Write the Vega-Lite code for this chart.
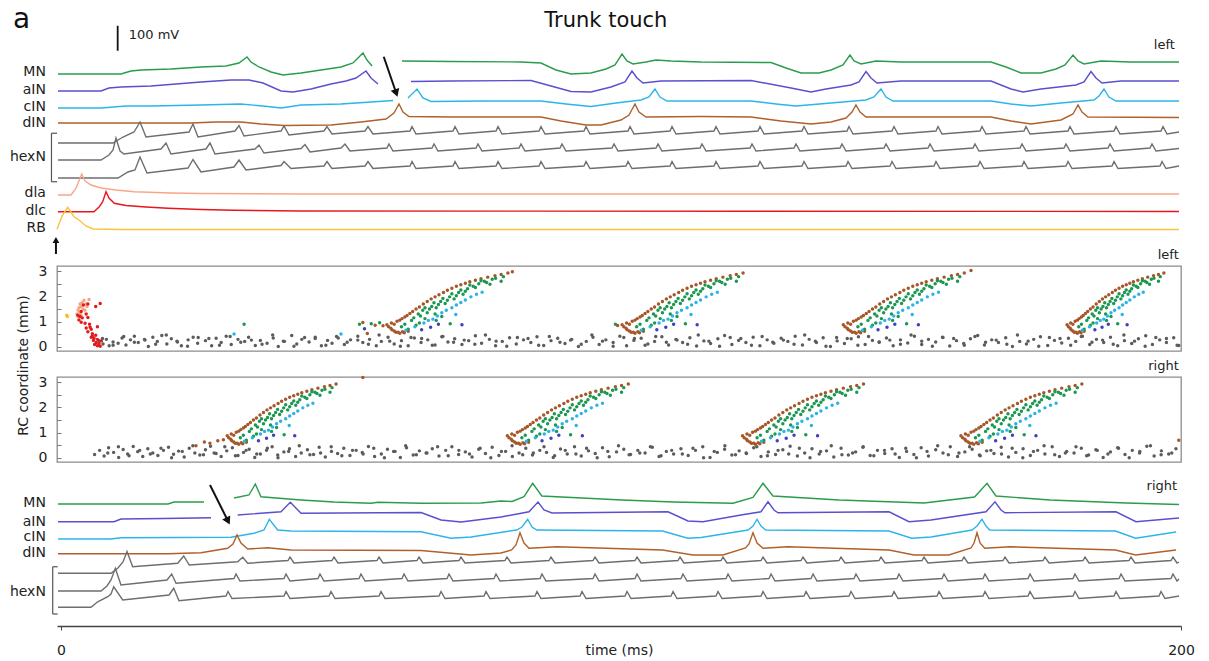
{
  "$schema": "https://vega.github.io/schema/vega-lite/v6.json",
  "background": "white",
  "autosize": {"type": "pad"},
  "padding": {"left": 9, "top": 0, "right": 0, "bottom": 0},
  "spacing": 26,
  "bounds": "flush",
  "resolve": {"scale": {"x": "independent", "y": "independent", "color": "independent"}},
  "config": {"font": "DejaVu Sans", "view": {"stroke": null}},
  "datasets": {
    "top": [
      {"k":"MN","t":-0.54,"v":664},{"k":"MN","t":10.71,"v":664},{"k":"MN","t":12.5,"v":676},{"k":"MN","t":14.29,"v":680},{"k":"MN","t":19.64,"v":684},{"k":"MN","t":25,"v":692},{"k":"MN","t":29.46,"v":696},{"k":"MN","t":31.79,"v":708},{"k":"MN","t":33.21,"v":732},{"k":"MN","t":33.93,"v":712},{"k":"MN","t":35.36,"v":692},{"k":"MN","t":37.5,"v":672},{"k":"MN","t":39.64,"v":660},{"k":"MN","t":42.86,"v":668},{"k":"MN","t":46.43,"v":680},{"k":"MN","t":50,"v":692},{"k":"MN","t":52.14,"v":708},{"k":"MN","t":53.93,"v":748},{"k":"MN","t":54.64,"v":720},{"k":"MN","t":55.54,"v":696},
      {"k":"MN_2","t":60.89,"v":716},{"k":"MN_2","t":69.64,"v":714},{"k":"MN_2","t":82.14,"v":712},{"k":"MN_2","t":85.71,"v":708},{"k":"MN_2","t":88.39,"v":680},{"k":"MN_2","t":91.07,"v":664},{"k":"MN_2","t":94.64,"v":668},{"k":"MN_2","t":97.32,"v":684},{"k":"MN_2","t":98.93,"v":700},{"k":"MN_2","t":100.18,"v":744},{"k":"MN_2","t":101.07,"v":716},{"k":"MN_2","t":102.14,"v":704},{"k":"MN_2","t":104.46,"v":712},{"k":"MN_2","t":106.25,"v":720},{"k":"MN_2","t":108.93,"v":716},{"k":"MN_2","t":114.29,"v":712},{"k":"MN_2","t":126.79,"v":710},{"k":"MN_2","t":129.46,"v":688},{"k":"MN_2","t":132.14,"v":668},{"k":"MN_2","t":135.36,"v":668},{"k":"MN_2","t":137.5,"v":680},{"k":"MN_2","t":139.64,"v":700},{"k":"MN_2","t":140.89,"v":740},{"k":"MN_2","t":141.61,"v":716},{"k":"MN_2","t":142.86,"v":704},{"k":"MN_2","t":145.54,"v":716},{"k":"MN_2","t":150,"v":712},{"k":"MN_2","t":166.07,"v":712},{"k":"MN_2","t":168.75,"v":692},{"k":"MN_2","t":171.43,"v":668},{"k":"MN_2","t":175,"v":668},{"k":"MN_2","t":177.68,"v":684},{"k":"MN_2","t":179.29,"v":700},{"k":"MN_2","t":180.71,"v":740},{"k":"MN_2","t":181.61,"v":716},{"k":"MN_2","t":182.68,"v":704},{"k":"MN_2","t":185.71,"v":716},{"k":"MN_2","t":191.07,"v":712},{"k":"MN_2","t":199.64,"v":712},
      {"k":"aIN","t":-0.54,"v":596},{"k":"aIN","t":7.14,"v":596},{"k":"aIN","t":8.57,"v":608},{"k":"aIN","t":10.71,"v":612},{"k":"aIN","t":16.07,"v":616},{"k":"aIN","t":20.54,"v":624},{"k":"aIN","t":25,"v":632},{"k":"aIN","t":30.36,"v":640},{"k":"aIN","t":33.57,"v":640},{"k":"aIN","t":36.07,"v":628},{"k":"aIN","t":39.29,"v":596},{"k":"aIN","t":41.43,"v":592},{"k":"aIN","t":44.64,"v":604},{"k":"aIN","t":48.21,"v":624},{"k":"aIN","t":50.89,"v":636},{"k":"aIN","t":52.68,"v":648},{"k":"aIN","t":54.46,"v":676},{"k":"aIN","t":55.36,"v":648},{"k":"aIN","t":56.61,"v":624},
      {"k":"aIN_2","t":62.5,"v":634},{"k":"aIN_2","t":69.64,"v":636},{"k":"aIN_2","t":83.93,"v":638},{"k":"aIN_2","t":87.5,"v":616},{"k":"aIN_2","t":91.07,"v":594},{"k":"aIN_2","t":94.64,"v":592},{"k":"aIN_2","t":98.21,"v":612},{"k":"aIN_2","t":100.71,"v":632},{"k":"aIN_2","t":101.96,"v":676},{"k":"aIN_2","t":102.86,"v":648},{"k":"aIN_2","t":103.93,"v":628},{"k":"aIN_2","t":107.14,"v":636},{"k":"aIN_2","t":123.21,"v":638},{"k":"aIN_2","t":130.36,"v":608},{"k":"aIN_2","t":133.93,"v":592},{"k":"aIN_2","t":136.61,"v":604},{"k":"aIN_2","t":141.07,"v":620},{"k":"aIN_2","t":142.5,"v":632},{"k":"aIN_2","t":143.75,"v":674},{"k":"aIN_2","t":144.64,"v":648},{"k":"aIN_2","t":145.71,"v":628},{"k":"aIN_2","t":150,"v":636},{"k":"aIN_2","t":166.07,"v":636},{"k":"aIN_2","t":169.64,"v":604},{"k":"aIN_2","t":171.79,"v":592},{"k":"aIN_2","t":175,"v":604},{"k":"aIN_2","t":181.25,"v":620},{"k":"aIN_2","t":182.68,"v":632},{"k":"aIN_2","t":183.93,"v":674},{"k":"aIN_2","t":184.82,"v":648},{"k":"aIN_2","t":185.89,"v":628},{"k":"aIN_2","t":189.29,"v":636},{"k":"aIN_2","t":199.64,"v":636},
      {"k":"cIN","t":-0.54,"v":528},{"k":"cIN","t":7.14,"v":528},{"k":"cIN","t":11.61,"v":536},{"k":"cIN","t":16.07,"v":536},{"k":"cIN","t":25,"v":540},{"k":"cIN","t":32.14,"v":544},{"k":"cIN","t":36.07,"v":536},{"k":"cIN","t":39.29,"v":528},{"k":"cIN","t":42.86,"v":540},{"k":"cIN","t":50,"v":544},{"k":"cIN","t":55.36,"v":552},{"k":"cIN","t":59.29,"v":558},
      {"k":"cIN_2","t":61.96,"v":568},{"k":"cIN_2","t":63.57,"v":604},{"k":"cIN_2","t":64.64,"v":568},{"k":"cIN_2","t":66.07,"v":554},{"k":"cIN_2","t":75,"v":556},{"k":"cIN_2","t":85.71,"v":556},{"k":"cIN_2","t":90.18,"v":544},{"k":"cIN_2","t":94.64,"v":534},{"k":"cIN_2","t":99.11,"v":548},{"k":"cIN_2","t":103.57,"v":560},{"k":"cIN_2","t":105,"v":572},{"k":"cIN_2","t":106.07,"v":604},{"k":"cIN_2","t":106.96,"v":572},{"k":"cIN_2","t":108.21,"v":556},{"k":"cIN_2","t":123.21,"v":556},{"k":"cIN_2","t":127.68,"v":544},{"k":"cIN_2","t":131.25,"v":536},{"k":"cIN_2","t":137.5,"v":548},{"k":"cIN_2","t":143.75,"v":560},{"k":"cIN_2","t":145.18,"v":572},{"k":"cIN_2","t":146.43,"v":604},{"k":"cIN_2","t":147.32,"v":572},{"k":"cIN_2","t":148.57,"v":556},{"k":"cIN_2","t":166.07,"v":556},{"k":"cIN_2","t":169.64,"v":544},{"k":"cIN_2","t":173.21,"v":536},{"k":"cIN_2","t":178.57,"v":548},{"k":"cIN_2","t":184.46,"v":560},{"k":"cIN_2","t":185.36,"v":576},{"k":"cIN_2","t":186.25,"v":604},{"k":"cIN_2","t":187.14,"v":572},{"k":"cIN_2","t":188.39,"v":556},{"k":"cIN_2","t":199.64,"v":556},
      {"k":"dIN","t":-0.54,"v":468},{"k":"dIN","t":23.21,"v":468},{"k":"dIN","t":27.68,"v":472},{"k":"dIN","t":32.14,"v":472},{"k":"dIN","t":35.71,"v":464},{"k":"dIN","t":39.82,"v":458},{"k":"dIN","t":48.21,"v":460},{"k":"dIN","t":53.57,"v":472},{"k":"dIN","t":58.04,"v":484},{"k":"dIN","t":59.46,"v":508},{"k":"dIN","t":60.36,"v":544},{"k":"dIN","t":61.07,"v":512},{"k":"dIN","t":62.14,"v":494},{"k":"dIN","t":69.64,"v":492},{"k":"dIN","t":85.71,"v":492},{"k":"dIN","t":89.29,"v":476},{"k":"dIN","t":93.75,"v":460},{"k":"dIN","t":96.43,"v":460},{"k":"dIN","t":100,"v":480},{"k":"dIN","t":101.43,"v":500},{"k":"dIN","t":102.5,"v":544},{"k":"dIN","t":103.21,"v":512},{"k":"dIN","t":104.46,"v":492},{"k":"dIN","t":114.29,"v":494},{"k":"dIN","t":123.21,"v":492},{"k":"dIN","t":128.57,"v":476},{"k":"dIN","t":133.93,"v":464},{"k":"dIN","t":137.5,"v":472},{"k":"dIN","t":140.18,"v":488},{"k":"dIN","t":141.25,"v":512},{"k":"dIN","t":141.96,"v":540},{"k":"dIN","t":142.68,"v":512},{"k":"dIN","t":143.75,"v":492},{"k":"dIN","t":166.07,"v":492},{"k":"dIN","t":169.64,"v":476},{"k":"dIN","t":173.21,"v":464},{"k":"dIN","t":178.57,"v":480},{"k":"dIN","t":180.71,"v":504},{"k":"dIN","t":181.61,"v":540},{"k":"dIN","t":182.32,"v":512},{"k":"dIN","t":183.39,"v":492},{"k":"dIN","t":199.64,"v":490},
      {"k":"h1","t":-0.54,"v":388},{"k":"h1","t":9.29,"v":388},{"k":"h1","t":11.07,"v":412},{"k":"h1","t":13.04,"v":432},{"k":"h1","t":14.11,"v":472},{"k":"h1","t":15.18,"v":412},{"k":"h1","t":22.86,"v":432},{"k":"h1","t":23.57,"v":464},{"k":"h1","t":24.46,"v":412},{"k":"h1","t":31.07,"v":436},{"k":"h1","t":31.79,"v":458},{"k":"h1","t":32.68,"v":416},{"k":"h1","t":39.29,"v":436},{"k":"h1","t":39.82,"v":456},{"k":"h1","t":40.71,"v":420},{"k":"h1","t":46.96,"v":436},{"k":"h1","t":47.5,"v":454},{"k":"h1","t":48.39,"v":424},{"k":"h1","t":54.29,"v":436},{"k":"h1","t":54.82,"v":454},{"k":"h1","t":55.71,"v":424},
      {"k":"h1","t":62.32,"v":436},{"k":"h1","t":62.68,"v":454},{"k":"h1","t":63.39,"v":424},{"k":"h1","t":70,"v":436},{"k":"h1","t":70.36,"v":454},{"k":"h1","t":71.07,"v":424},{"k":"h1","t":77.68,"v":436},{"k":"h1","t":78.04,"v":454},{"k":"h1","t":78.75,"v":424},{"k":"h1","t":85.36,"v":436},{"k":"h1","t":85.71,"v":454},{"k":"h1","t":86.43,"v":424},{"k":"h1","t":93.39,"v":436},{"k":"h1","t":93.75,"v":454},{"k":"h1","t":94.46,"v":424},{"k":"h1","t":101.25,"v":436},{"k":"h1","t":101.61,"v":454},{"k":"h1","t":102.32,"v":424},{"k":"h1","t":108.75,"v":436},{"k":"h1","t":109.11,"v":454},{"k":"h1","t":109.82,"v":424},{"k":"h1","t":116.61,"v":436},{"k":"h1","t":116.96,"v":454},{"k":"h1","t":117.68,"v":424},{"k":"h1","t":124.46,"v":436},{"k":"h1","t":124.82,"v":454},{"k":"h1","t":125.54,"v":424},{"k":"h1","t":132.32,"v":436},{"k":"h1","t":132.68,"v":454},{"k":"h1","t":133.39,"v":424},{"k":"h1","t":140.36,"v":436},{"k":"h1","t":140.71,"v":454},{"k":"h1","t":141.43,"v":424},{"k":"h1","t":148.39,"v":436},{"k":"h1","t":148.75,"v":454},{"k":"h1","t":149.46,"v":424},{"k":"h1","t":156.25,"v":436},{"k":"h1","t":156.61,"v":454},{"k":"h1","t":157.32,"v":424},{"k":"h1","t":164.11,"v":436},{"k":"h1","t":164.46,"v":454},{"k":"h1","t":165.18,"v":424},{"k":"h1","t":171.96,"v":436},{"k":"h1","t":172.32,"v":454},{"k":"h1","t":173.04,"v":424},{"k":"h1","t":179.82,"v":436},{"k":"h1","t":180.18,"v":454},{"k":"h1","t":180.89,"v":424},{"k":"h1","t":188.04,"v":436},{"k":"h1","t":188.39,"v":454},{"k":"h1","t":189.11,"v":424},{"k":"h1","t":196.43,"v":436},{"k":"h1","t":196.79,"v":454},{"k":"h1","t":197.5,"v":424},{"k":"h1","t":199.64,"v":432},
      {"k":"h2","t":-0.54,"v":320},{"k":"h2","t":7.14,"v":320},{"k":"h2","t":8.57,"v":340},{"k":"h2","t":9.29,"v":360},{"k":"h2","t":9.82,"v":408},{"k":"h2","t":10.54,"v":356},{"k":"h2","t":11.25,"v":344},{"k":"h2","t":17.86,"v":364},{"k":"h2","t":18.75,"v":388},{"k":"h2","t":19.64,"v":344},{"k":"h2","t":25.89,"v":364},{"k":"h2","t":26.61,"v":388},{"k":"h2","t":27.5,"v":344},{"k":"h2","t":34.64,"v":364},{"k":"h2","t":35.36,"v":380},{"k":"h2","t":36.25,"v":348},{"k":"h2","t":42.86,"v":366},{"k":"h2","t":43.57,"v":382},{"k":"h2","t":44.46,"v":352},{"k":"h2","t":50,"v":368},{"k":"h2","t":50.71,"v":384},{"k":"h2","t":51.61,"v":356},
      {"k":"h2","t":58.21,"v":368},{"k":"h2","t":58.57,"v":384},{"k":"h2","t":59.29,"v":356},{"k":"h2","t":66.25,"v":368},{"k":"h2","t":66.61,"v":384},{"k":"h2","t":67.32,"v":356},{"k":"h2","t":74.11,"v":368},{"k":"h2","t":74.46,"v":384},{"k":"h2","t":75.18,"v":356},{"k":"h2","t":81.79,"v":368},{"k":"h2","t":82.14,"v":384},{"k":"h2","t":82.86,"v":356},{"k":"h2","t":89.11,"v":368},{"k":"h2","t":89.46,"v":384},{"k":"h2","t":90.18,"v":356},{"k":"h2","t":98.39,"v":368},{"k":"h2","t":98.75,"v":384},{"k":"h2","t":99.46,"v":356},{"k":"h2","t":106.25,"v":368},{"k":"h2","t":106.61,"v":384},{"k":"h2","t":107.32,"v":356},{"k":"h2","t":114.11,"v":368},{"k":"h2","t":114.46,"v":384},{"k":"h2","t":115.18,"v":356},{"k":"h2","t":123.04,"v":368},{"k":"h2","t":123.39,"v":384},{"k":"h2","t":124.11,"v":356},{"k":"h2","t":130.89,"v":368},{"k":"h2","t":131.25,"v":384},{"k":"h2","t":131.96,"v":356},{"k":"h2","t":139.11,"v":368},{"k":"h2","t":139.46,"v":384},{"k":"h2","t":140.18,"v":356},{"k":"h2","t":146.96,"v":368},{"k":"h2","t":147.32,"v":384},{"k":"h2","t":148.04,"v":356},{"k":"h2","t":154.82,"v":368},{"k":"h2","t":155.18,"v":384},{"k":"h2","t":155.89,"v":356},{"k":"h2","t":162.86,"v":368},{"k":"h2","t":163.21,"v":384},{"k":"h2","t":163.93,"v":356},{"k":"h2","t":171.25,"v":368},{"k":"h2","t":171.61,"v":384},{"k":"h2","t":172.32,"v":356},{"k":"h2","t":179.11,"v":368},{"k":"h2","t":179.46,"v":384},{"k":"h2","t":180.18,"v":356},{"k":"h2","t":186.96,"v":368},{"k":"h2","t":187.32,"v":384},{"k":"h2","t":188.04,"v":356},{"k":"h2","t":194.46,"v":368},{"k":"h2","t":194.82,"v":384},{"k":"h2","t":195.54,"v":356},{"k":"h2","t":199.64,"v":366},
      {"k":"h3","t":-0.54,"v":248},{"k":"h3","t":10.18,"v":248},{"k":"h3","t":11.96,"v":272},{"k":"h3","t":13.21,"v":280},{"k":"h3","t":14.11,"v":332},{"k":"h3","t":15.36,"v":268},{"k":"h3","t":22.68,"v":288},{"k":"h3","t":23.57,"v":322},{"k":"h3","t":25,"v":272},{"k":"h3","t":30.89,"v":292},{"k":"h3","t":31.79,"v":320},{"k":"h3","t":33.04,"v":280},{"k":"h3","t":39.29,"v":298},{"k":"h3","t":39.82,"v":314},{"k":"h3","t":41.07,"v":286},{"k":"h3","t":46.96,"v":296},{"k":"h3","t":47.5,"v":314},{"k":"h3","t":48.39,"v":286},{"k":"h3","t":54.29,"v":296},{"k":"h3","t":54.82,"v":314},{"k":"h3","t":55.71,"v":286},
      {"k":"h3","t":62.32,"v":296},{"k":"h3","t":62.68,"v":314},{"k":"h3","t":63.39,"v":286},{"k":"h3","t":70,"v":296},{"k":"h3","t":70.36,"v":314},{"k":"h3","t":71.07,"v":286},{"k":"h3","t":77.68,"v":296},{"k":"h3","t":78.04,"v":314},{"k":"h3","t":78.75,"v":286},{"k":"h3","t":85.36,"v":296},{"k":"h3","t":85.71,"v":314},{"k":"h3","t":86.43,"v":286},{"k":"h3","t":93.39,"v":296},{"k":"h3","t":93.75,"v":314},{"k":"h3","t":94.46,"v":286},{"k":"h3","t":100.89,"v":296},{"k":"h3","t":101.25,"v":314},{"k":"h3","t":101.96,"v":286},{"k":"h3","t":108.75,"v":296},{"k":"h3","t":109.11,"v":314},{"k":"h3","t":109.82,"v":286},{"k":"h3","t":116.61,"v":296},{"k":"h3","t":116.96,"v":314},{"k":"h3","t":117.68,"v":286},{"k":"h3","t":124.46,"v":296},{"k":"h3","t":124.82,"v":314},{"k":"h3","t":125.54,"v":286},{"k":"h3","t":132.32,"v":296},{"k":"h3","t":132.68,"v":314},{"k":"h3","t":133.39,"v":286},{"k":"h3","t":140.18,"v":296},{"k":"h3","t":140.54,"v":314},{"k":"h3","t":141.25,"v":286},{"k":"h3","t":148.04,"v":296},{"k":"h3","t":148.39,"v":314},{"k":"h3","t":149.11,"v":286},{"k":"h3","t":155.89,"v":296},{"k":"h3","t":156.25,"v":314},{"k":"h3","t":156.96,"v":286},{"k":"h3","t":163.75,"v":296},{"k":"h3","t":164.11,"v":314},{"k":"h3","t":164.82,"v":286},{"k":"h3","t":171.61,"v":296},{"k":"h3","t":171.96,"v":314},{"k":"h3","t":172.68,"v":286},{"k":"h3","t":179.46,"v":296},{"k":"h3","t":179.82,"v":314},{"k":"h3","t":180.54,"v":286},{"k":"h3","t":187.68,"v":296},{"k":"h3","t":188.04,"v":314},{"k":"h3","t":188.75,"v":286},{"k":"h3","t":196.25,"v":296},{"k":"h3","t":196.61,"v":314},{"k":"h3","t":197.32,"v":286},{"k":"h3","t":199.64,"v":296},
      {"k":"dla","t":-0.54,"v":180},{"k":"dla","t":1.79,"v":180},{"k":"dla","t":2.68,"v":207},{"k":"dla","t":3.7,"v":264},{"k":"dla","t":4.29,"v":236},{"k":"dla","t":5.36,"v":220},{"k":"dla","t":7.14,"v":208},{"k":"dla","t":9.82,"v":200},{"k":"dla","t":13.04,"v":193},{"k":"dla","t":19.64,"v":188},{"k":"dla","t":25,"v":186},{"k":"dla","t":42.86,"v":184},{"k":"dla","t":199.64,"v":184},
      {"k":"dlc","t":-0.54,"v":113},{"k":"dlc","t":5.89,"v":113},{"k":"dlc","t":6.84,"v":133},{"k":"dlc","t":7.45,"v":153},{"k":"dlc","t":8.04,"v":193},{"k":"dlc","t":8.57,"v":168},{"k":"dlc","t":9.52,"v":147},{"k":"dlc","t":11.61,"v":138},{"k":"dlc","t":15.18,"v":132},{"k":"dlc","t":19.11,"v":127},{"k":"dlc","t":25,"v":122},{"k":"dlc","t":30.89,"v":119},{"k":"dlc","t":42.86,"v":116},{"k":"dlc","t":199.64,"v":114},
      {"k":"RB","t":-0.71,"v":43},{"k":"RB","t":0.18,"v":96},{"k":"RB","t":1.2,"v":131},{"k":"RB","t":2.32,"v":93},{"k":"RB","t":3.21,"v":80},{"k":"RB","t":4.46,"v":56},{"k":"RB","t":5.71,"v":44},{"k":"RB","t":10.71,"v":42},{"k":"RB","t":199.64,"v":42}
    ],
    "bottom": [
      {"k":"MN","t":-0.54,"v":488},{"k":"MN","t":19.11,"v":488},{"k":"MN","t":20.18,"v":496},{"k":"MN","t":25.54,"v":496},
      {"k":"MN_2","t":30.89,"v":512},{"k":"MN_2","t":33.57,"v":524},{"k":"MN_2","t":34.7,"v":568},{"k":"MN_2","t":35.71,"v":517},{"k":"MN_2","t":42.86,"v":504},{"k":"MN_2","t":48.75,"v":496},{"k":"MN_2","t":55.36,"v":491},{"k":"MN_2","t":56.61,"v":495},{"k":"MN_2","t":64.29,"v":491},{"k":"MN_2","t":75,"v":492},{"k":"MN_2","t":78.57,"v":500},{"k":"MN_2","t":80.54,"v":498},{"k":"MN_2","t":82.68,"v":517},{"k":"MN_2","t":84.23,"v":571},{"k":"MN_2","t":85.86,"v":520},{"k":"MN_2","t":100.18,"v":504},{"k":"MN_2","t":109.29,"v":496},{"k":"MN_2","t":120,"v":491},{"k":"MN_2","t":123.57,"v":514},{"k":"MN_2","t":125.36,"v":571},{"k":"MN_2","t":127.14,"v":520},{"k":"MN_2","t":138.93,"v":504},{"k":"MN_2","t":154.11,"v":492},{"k":"MN_2","t":163.14,"v":516},{"k":"MN_2","t":165.36,"v":571},{"k":"MN_2","t":166.96,"v":520},{"k":"MN_2","t":176.61,"v":504},{"k":"MN_2","t":185.71,"v":496},{"k":"MN_2","t":190.18,"v":492},{"k":"MN_2","t":199.64,"v":486},
      {"k":"aIN","t":-0.54,"v":417},{"k":"aIN","t":9.46,"v":417},{"k":"aIN","t":10.71,"v":428},{"k":"aIN","t":18.39,"v":430},{"k":"aIN","t":26.79,"v":433},
      {"k":"aIN_2","t":31.55,"v":444},{"k":"aIN_2","t":39.29,"v":457},{"k":"aIN_2","t":40.95,"v":495},{"k":"aIN_2","t":42.86,"v":451},{"k":"aIN_2","t":64.29,"v":454},{"k":"aIN_2","t":67.86,"v":424},{"k":"aIN_2","t":71.43,"v":416},{"k":"aIN_2","t":78.57,"v":436},{"k":"aIN_2","t":83.57,"v":457},{"k":"aIN_2","t":85.18,"v":496},{"k":"aIN_2","t":86.25,"v":464},{"k":"aIN_2","t":87.68,"v":452},{"k":"aIN_2","t":108.39,"v":457},{"k":"aIN_2","t":111.96,"v":420},{"k":"aIN_2","t":114.64,"v":417},{"k":"aIN_2","t":121.43,"v":444},{"k":"aIN_2","t":125,"v":457},{"k":"aIN_2","t":126.25,"v":497},{"k":"aIN_2","t":127.32,"v":464},{"k":"aIN_2","t":128.04,"v":453},{"k":"aIN_2","t":147.86,"v":457},{"k":"aIN_2","t":151.43,"v":417},{"k":"aIN_2","t":155.36,"v":424},{"k":"aIN_2","t":165.18,"v":457},{"k":"aIN_2","t":166.79,"v":497},{"k":"aIN_2","t":167.86,"v":464},{"k":"aIN_2","t":168.57,"v":453},{"k":"aIN_2","t":188.39,"v":457},{"k":"aIN_2","t":191.96,"v":417},{"k":"aIN_2","t":199.64,"v":432},
      {"k":"cIN","t":-0.54,"v":348},{"k":"cIN","t":8.93,"v":348},{"k":"cIN","t":10.71,"v":353},{"k":"cIN","t":30.36,"v":355},{"k":"cIN","t":34.46,"v":371},{"k":"cIN","t":36.25,"v":384},{"k":"cIN","t":37.2,"v":427},{"k":"cIN","t":38.7,"v":384},{"k":"cIN","t":41.07,"v":380},{"k":"cIN","t":64.29,"v":377},{"k":"cIN","t":69.64,"v":351},{"k":"cIN","t":73.21,"v":356},{"k":"cIN","t":81.36,"v":384},{"k":"cIN","t":82.32,"v":396},{"k":"cIN","t":83.34,"v":427},{"k":"cIN","t":84.11,"v":396},{"k":"cIN","t":84.96,"v":384},{"k":"cIN","t":107.43,"v":380},{"k":"cIN","t":111.91,"v":351},{"k":"cIN","t":114.29,"v":354},{"k":"cIN","t":122.68,"v":384},{"k":"cIN","t":123.57,"v":400},{"k":"cIN","t":124.29,"v":427},{"k":"cIN","t":125,"v":400},{"k":"cIN","t":125.84,"v":384},{"k":"cIN","t":147.86,"v":380},{"k":"cIN","t":151.91,"v":351},{"k":"cIN","t":155.36,"v":356},{"k":"cIN","t":162.68,"v":384},{"k":"cIN","t":163.57,"v":400},{"k":"cIN","t":164.46,"v":427},{"k":"cIN","t":165.18,"v":400},{"k":"cIN","t":165.84,"v":384},{"k":"cIN","t":188.3,"v":380},{"k":"cIN","t":191.89,"v":351},{"k":"cIN","t":199.11,"v":376},
      {"k":"dIN","t":-0.54,"v":289},{"k":"dIN","t":19.11,"v":289},{"k":"dIN","t":25,"v":293},{"k":"dIN","t":29.77,"v":311},{"k":"dIN","t":30.71,"v":328},{"k":"dIN","t":31.43,"v":364},{"k":"dIN","t":32.14,"v":332},{"k":"dIN","t":33.34,"v":308},{"k":"dIN","t":36.91,"v":313},{"k":"dIN","t":41.07,"v":304},{"k":"dIN","t":64.29,"v":302},{"k":"dIN","t":73.21,"v":284},{"k":"dIN","t":78.57,"v":292},{"k":"dIN","t":80.46,"v":304},{"k":"dIN","t":81.25,"v":324},{"k":"dIN","t":81.96,"v":373},{"k":"dIN","t":82.68,"v":332},{"k":"dIN","t":83.57,"v":311},{"k":"dIN","t":88.57,"v":317},{"k":"dIN","t":107.43,"v":304},{"k":"dIN","t":112.82,"v":284},{"k":"dIN","t":118.21,"v":284},{"k":"dIN","t":122.25,"v":312},{"k":"dIN","t":122.86,"v":328},{"k":"dIN","t":123.57,"v":373},{"k":"dIN","t":124.29,"v":332},{"k":"dIN","t":125.36,"v":311},{"k":"dIN","t":129.82,"v":317},{"k":"dIN","t":147.86,"v":304},{"k":"dIN","t":152.32,"v":284},{"k":"dIN","t":158.57,"v":284},{"k":"dIN","t":162.5,"v":312},{"k":"dIN","t":163.04,"v":332},{"k":"dIN","t":163.57,"v":373},{"k":"dIN","t":164.11,"v":332},{"k":"dIN","t":164.95,"v":311},{"k":"dIN","t":169.46,"v":317},{"k":"dIN","t":188.3,"v":304},{"k":"dIN","t":191.89,"v":284},{"k":"dIN","t":199.11,"v":304},
      {"k":"h1","t":-0.54,"v":211},{"k":"h1","t":8.93,"v":211},{"k":"h1","t":10.13,"v":231},{"k":"h1","t":11.07,"v":256},{"k":"h1","t":11.79,"v":298},{"k":"h1","t":12.8,"v":237},{"k":"h1","t":20.84,"v":251},{"k":"h1","t":21.91,"v":280},{"k":"h1","t":22.91,"v":244},{"k":"h1","t":31.55,"v":257},{"k":"h1","t":32.45,"v":275},{"k":"h1","t":33.34,"v":251},
      {"k":"h1","t":40.54,"v":262},{"k":"h1","t":40.89,"v":276},{"k":"h1","t":41.61,"v":252},{"k":"h1","t":48.39,"v":262},{"k":"h1","t":48.75,"v":276},{"k":"h1","t":49.46,"v":252},{"k":"h1","t":56.43,"v":262},{"k":"h1","t":56.79,"v":276},{"k":"h1","t":57.5,"v":252},{"k":"h1","t":63.57,"v":262},{"k":"h1","t":63.93,"v":276},{"k":"h1","t":64.64,"v":252},{"k":"h1","t":71.07,"v":262},{"k":"h1","t":71.43,"v":276},{"k":"h1","t":72.14,"v":252},{"k":"h1","t":79.29,"v":262},{"k":"h1","t":79.64,"v":276},{"k":"h1","t":80.36,"v":252},{"k":"h1","t":87.14,"v":262},{"k":"h1","t":87.5,"v":276},{"k":"h1","t":88.21,"v":252},{"k":"h1","t":95,"v":262},{"k":"h1","t":95.36,"v":276},{"k":"h1","t":96.07,"v":252},{"k":"h1","t":102.5,"v":262},{"k":"h1","t":102.86,"v":276},{"k":"h1","t":103.57,"v":252},{"k":"h1","t":110.18,"v":262},{"k":"h1","t":110.54,"v":276},{"k":"h1","t":111.25,"v":252},{"k":"h1","t":117.86,"v":262},{"k":"h1","t":118.21,"v":276},{"k":"h1","t":118.93,"v":252},{"k":"h1","t":125,"v":262},{"k":"h1","t":125.36,"v":276},{"k":"h1","t":126.07,"v":252},{"k":"h1","t":132.14,"v":262},{"k":"h1","t":132.5,"v":276},{"k":"h1","t":133.21,"v":252},{"k":"h1","t":138.93,"v":262},{"k":"h1","t":139.29,"v":276},{"k":"h1","t":140,"v":252},{"k":"h1","t":146.07,"v":262},{"k":"h1","t":146.43,"v":276},{"k":"h1","t":147.14,"v":252},{"k":"h1","t":153.75,"v":262},{"k":"h1","t":154.11,"v":276},{"k":"h1","t":154.82,"v":252},{"k":"h1","t":160.89,"v":262},{"k":"h1","t":161.25,"v":276},{"k":"h1","t":161.96,"v":252},{"k":"h1","t":168.21,"v":262},{"k":"h1","t":168.57,"v":276},{"k":"h1","t":169.29,"v":252},{"k":"h1","t":175.36,"v":262},{"k":"h1","t":175.71,"v":276},{"k":"h1","t":176.43,"v":252},{"k":"h1","t":182.5,"v":262},{"k":"h1","t":182.86,"v":276},{"k":"h1","t":183.57,"v":252},{"k":"h1","t":190.71,"v":262},{"k":"h1","t":191.07,"v":276},{"k":"h1","t":191.79,"v":252},{"k":"h1","t":198.21,"v":262},{"k":"h1","t":198.57,"v":276},{"k":"h1","t":199.29,"v":252},{"k":"h1","t":199.64,"v":256},
      {"k":"h2","t":-0.54,"v":140},{"k":"h2","t":7.14,"v":140},{"k":"h2","t":8.21,"v":160},{"k":"h2","t":8.93,"v":184},{"k":"h2","t":9.7,"v":231},{"k":"h2","t":10.71,"v":164},{"k":"h2","t":18.93,"v":184},{"k":"h2","t":19.77,"v":208},{"k":"h2","t":20.54,"v":171},
      {"k":"h2","t":30.89,"v":190},{"k":"h2","t":31.25,"v":208},{"k":"h2","t":31.96,"v":180},{"k":"h2","t":39.82,"v":190},{"k":"h2","t":40.18,"v":208},{"k":"h2","t":40.89,"v":180},{"k":"h2","t":45.89,"v":190},{"k":"h2","t":46.25,"v":208},{"k":"h2","t":46.96,"v":180},{"k":"h2","t":53.21,"v":190},{"k":"h2","t":53.57,"v":208},{"k":"h2","t":54.29,"v":180},{"k":"h2","t":60.89,"v":190},{"k":"h2","t":61.25,"v":208},{"k":"h2","t":61.96,"v":180},{"k":"h2","t":68.93,"v":190},{"k":"h2","t":69.29,"v":208},{"k":"h2","t":70,"v":180},{"k":"h2","t":77.32,"v":190},{"k":"h2","t":77.68,"v":208},{"k":"h2","t":78.39,"v":180},{"k":"h2","t":85.54,"v":190},{"k":"h2","t":85.89,"v":208},{"k":"h2","t":86.61,"v":180},{"k":"h2","t":95,"v":190},{"k":"h2","t":95.36,"v":208},{"k":"h2","t":96.07,"v":180},{"k":"h2","t":102.5,"v":190},{"k":"h2","t":102.86,"v":208},{"k":"h2","t":103.57,"v":180},{"k":"h2","t":110.71,"v":190},{"k":"h2","t":111.07,"v":208},{"k":"h2","t":111.79,"v":180},{"k":"h2","t":118.75,"v":190},{"k":"h2","t":119.11,"v":208},{"k":"h2","t":119.82,"v":180},{"k":"h2","t":126.43,"v":190},{"k":"h2","t":126.79,"v":208},{"k":"h2","t":127.5,"v":180},{"k":"h2","t":133.93,"v":190},{"k":"h2","t":134.29,"v":208},{"k":"h2","t":135,"v":180},{"k":"h2","t":141.61,"v":190},{"k":"h2","t":141.96,"v":208},{"k":"h2","t":142.68,"v":180},{"k":"h2","t":149.29,"v":190},{"k":"h2","t":149.64,"v":208},{"k":"h2","t":150.36,"v":180},{"k":"h2","t":157.32,"v":190},{"k":"h2","t":157.68,"v":208},{"k":"h2","t":158.39,"v":180},{"k":"h2","t":164.64,"v":190},{"k":"h2","t":165,"v":208},{"k":"h2","t":165.71,"v":180},{"k":"h2","t":172.68,"v":190},{"k":"h2","t":173.04,"v":208},{"k":"h2","t":173.75,"v":180},{"k":"h2","t":180.71,"v":190},{"k":"h2","t":181.07,"v":208},{"k":"h2","t":181.79,"v":180},{"k":"h2","t":188.93,"v":190},{"k":"h2","t":189.29,"v":208},{"k":"h2","t":190,"v":180},{"k":"h2","t":198.21,"v":190},{"k":"h2","t":198.57,"v":208},{"k":"h2","t":199.29,"v":180},{"k":"h2","t":199.64,"v":188},
      {"k":"h3","t":-0.54,"v":75},{"k":"h3","t":5.36,"v":75},{"k":"h3","t":6.55,"v":97},{"k":"h3","t":8.34,"v":117},{"k":"h3","t":8.93,"v":128},{"k":"h3","t":9.41,"v":157},{"k":"h3","t":11.02,"v":104},{"k":"h3","t":19.29,"v":124},{"k":"h3","t":20.13,"v":151},{"k":"h3","t":21.07,"v":101},
      {"k":"h3","t":29.46,"v":120},{"k":"h3","t":29.82,"v":138},{"k":"h3","t":30.54,"v":110},{"k":"h3","t":39.82,"v":120},{"k":"h3","t":40.18,"v":138},{"k":"h3","t":40.89,"v":110},{"k":"h3","t":47.86,"v":120},{"k":"h3","t":48.21,"v":138},{"k":"h3","t":48.93,"v":110},{"k":"h3","t":56.79,"v":120},{"k":"h3","t":57.14,"v":138},{"k":"h3","t":57.86,"v":110},{"k":"h3","t":67.5,"v":120},{"k":"h3","t":67.86,"v":138},{"k":"h3","t":68.57,"v":110},{"k":"h3","t":75.54,"v":120},{"k":"h3","t":75.89,"v":138},{"k":"h3","t":76.61,"v":110},{"k":"h3","t":84.64,"v":120},{"k":"h3","t":85,"v":138},{"k":"h3","t":85.71,"v":110},{"k":"h3","t":92.68,"v":120},{"k":"h3","t":93.04,"v":138},{"k":"h3","t":93.75,"v":110},{"k":"h3","t":100.71,"v":120},{"k":"h3","t":101.07,"v":138},{"k":"h3","t":101.79,"v":110},{"k":"h3","t":108.93,"v":120},{"k":"h3","t":109.29,"v":138},{"k":"h3","t":110,"v":110},{"k":"h3","t":116.96,"v":120},{"k":"h3","t":117.32,"v":138},{"k":"h3","t":118.04,"v":110},{"k":"h3","t":125,"v":120},{"k":"h3","t":125.36,"v":138},{"k":"h3","t":126.07,"v":110},{"k":"h3","t":132.68,"v":120},{"k":"h3","t":133.04,"v":138},{"k":"h3","t":133.75,"v":110},{"k":"h3","t":140.71,"v":120},{"k":"h3","t":141.07,"v":138},{"k":"h3","t":141.79,"v":110},{"k":"h3","t":148.39,"v":120},{"k":"h3","t":148.75,"v":138},{"k":"h3","t":149.46,"v":110},{"k":"h3","t":156.43,"v":120},{"k":"h3","t":156.79,"v":138},{"k":"h3","t":157.5,"v":110},{"k":"h3","t":164.64,"v":120},{"k":"h3","t":165,"v":138},{"k":"h3","t":165.71,"v":110},{"k":"h3","t":172.68,"v":120},{"k":"h3","t":173.04,"v":138},{"k":"h3","t":173.75,"v":110},{"k":"h3","t":180.71,"v":120},{"k":"h3","t":181.07,"v":138},{"k":"h3","t":181.79,"v":110},{"k":"h3","t":188.04,"v":120},{"k":"h3","t":188.39,"v":138},{"k":"h3","t":189.11,"v":110},{"k":"h3","t":196.07,"v":120},{"k":"h3","t":196.43,"v":138},{"k":"h3","t":197.14,"v":110},{"k":"h3","t":199.64,"v":120}
    ],
    "rasterL": [
      {"t":6.8,"y":0.25,"c":"hexN"},{"t":7.5,"y":0.12,"c":"hexN"},{"t":8.1,"y":0.3,"c":"hexN"},{"t":8.6,"y":0.05,"c":"hexN"},{"t":9.3,"y":0.2,"c":"hexN"},{"t":10.2,"y":0.15,"c":"hexN"},{"t":10.9,"y":0.35,"c":"hexN"},{"t":11.6,"y":0.08,"c":"hexN"},{"t":12.4,"y":0.28,"c":"hexN"},{"t":13.1,"y":0.42,"c":"hexN"},{"t":13.8,"y":0.18,"c":"hexN"},{"t":14.9,"y":0.3,"c":"hexN"},{"t":15.6,"y":0.02,"c":"hexN"},{"t":16.4,"y":0.38,"c":"hexN"},{"t":17.2,"y":0.22,"c":"hexN"},{"t":18,"y":0.45,"c":"hexN"},{"t":18.9,"y":0.12,"c":"hexN"},{"t":19.7,"y":0.32,"c":"hexN"},{"t":20.8,"y":0.2,"c":"hexN"},{"t":21.5,"y":0.05,"c":"hexN"},{"t":22.7,"y":0.28,"c":"hexN"},{"t":23.6,"y":0.38,"c":"hexN"},{"t":24.4,"y":0.15,"c":"hexN"},{"t":25.8,"y":0.25,"c":"hexN"},{"t":26.9,"y":0.05,"c":"hexN"},{"t":27.7,"y":0.34,"c":"hexN"},{"t":28.6,"y":0.18,"c":"hexN"},{"t":29.5,"y":0.42,"c":"hexN"},{"t":30.4,"y":0.1,"c":"hexN"},{"t":31.6,"y":0.3,"c":"hexN"},{"t":32.8,"y":0.22,"c":"hexN"},{"t":33.5,"y":0.38,"c":"hexN"},{"t":34.7,"y":0.06,"c":"hexN"},{"t":35.6,"y":0.26,"c":"hexN"},{"t":36.8,"y":0.15,"c":"hexN"},{"t":37.9,"y":0.35,"c":"hexN"},{"t":38.8,"y":0.02,"c":"hexN"},{"t":39.9,"y":0.22,"c":"hexN"},{"t":41.2,"y":0.45,"c":"hexN"},{"t":42.1,"y":0.12,"c":"hexN"},{"t":43,"y":0.3,"c":"hexN"},{"t":44.3,"y":0.2,"c":"hexN"},{"t":45.4,"y":0.38,"c":"hexN"},{"t":46.5,"y":0.05,"c":"hexN"},{"t":47.6,"y":0.26,"c":"hexN"},{"t":48.4,"y":0.15,"c":"hexN"},{"t":49.5,"y":0.35,"c":"hexN"},{"t":50.6,"y":0.1,"c":"hexN"},{"t":51.7,"y":0.28,"c":"hexN"},{"t":53,"y":0.42,"c":"hexN"},{"t":53.9,"y":0.18,"c":"hexN"},{"t":55.1,"y":0.3,"c":"hexN"},{"t":56.3,"y":0.05,"c":"hexN"},{"t":57.2,"y":0.22,"c":"hexN"},{"t":58.4,"y":0.38,"c":"hexN"},{"t":59.5,"y":0.12,"c":"hexN"},{"t":60.8,"y":0.25,"c":"hexN"},{"t":62,"y":0.05,"c":"hexN"},{"t":63.1,"y":0.35,"c":"hexN"},{"t":64.3,"y":0.18,"c":"hexN"},{"t":65.5,"y":0.28,"c":"hexN"},{"t":66.8,"y":0.08,"c":"hexN"},{"t":68,"y":0.4,"c":"hexN"},{"t":69.1,"y":0.2,"c":"hexN"},{"t":70.3,"y":0.32,"c":"hexN"},{"t":71.6,"y":0.1,"c":"hexN"},{"t":72.8,"y":0.25,"c":"hexN"},{"t":74,"y":0.44,"c":"hexN"},{"t":75.1,"y":0.15,"c":"hexN"},{"t":76.5,"y":0.3,"c":"hexN"},{"t":77.6,"y":0.05,"c":"hexN"},{"t":78.8,"y":0.22,"c":"hexN"},{"t":80.1,"y":0.36,"c":"hexN"},{"t":81.3,"y":0.12,"c":"hexN"},{"t":82.6,"y":0.28,"c":"hexN"},{"t":83.9,"y":0.18,"c":"hexN"},{"t":85,"y":0.4,"c":"hexN"},{"t":86.2,"y":0.06,"c":"hexN"},{"t":87.5,"y":0.25,"c":"hexN"},{"t":88.7,"y":0.34,"c":"hexN"},{"t":90,"y":0.14,"c":"hexN"},{"t":91.2,"y":0.3,"c":"hexN"},{"t":92.4,"y":0.02,"c":"hexN"},{"t":93.8,"y":0.22,"c":"hexN"},{"t":95,"y":0.38,"c":"hexN"},{"t":96.1,"y":0.1,"c":"hexN"},{"t":97.3,"y":0.28,"c":"hexN"},{"t":98.6,"y":0.18,"c":"hexN"},{"t":99.8,"y":0.42,"c":"hexN"},{"t":101,"y":0.05,"c":"hexN"},{"t":102.3,"y":0.26,"c":"hexN"},{"t":103.6,"y":0.34,"c":"hexN"},{"t":104.8,"y":0.12,"c":"hexN"},{"t":106,"y":0.22,"c":"hexN"},{"t":107.3,"y":0.4,"c":"hexN"},{"t":108.5,"y":0.08,"c":"hexN"},{"t":109.8,"y":0.3,"c":"hexN"},{"t":111,"y":0.18,"c":"hexN"},{"t":112.3,"y":0.36,"c":"hexN"},{"t":113.5,"y":0.04,"c":"hexN"},{"t":114.8,"y":0.24,"c":"hexN"},{"t":116,"y":0.14,"c":"hexN"},{"t":117.3,"y":0.32,"c":"hexN"},{"t":118.5,"y":0.45,"c":"hexN"},{"t":119.8,"y":0.1,"c":"hexN"},{"t":121,"y":0.26,"c":"hexN"},{"t":122.3,"y":0.18,"c":"hexN"},{"t":123.6,"y":0.38,"c":"hexN"},{"t":124.8,"y":0.05,"c":"hexN"},{"t":126.1,"y":0.28,"c":"hexN"},{"t":127.3,"y":0.15,"c":"hexN"},{"t":128.6,"y":0.34,"c":"hexN"},{"t":129.8,"y":0.22,"c":"hexN"},{"t":131.1,"y":0.42,"c":"hexN"},{"t":132.4,"y":0.08,"c":"hexN"},{"t":133.6,"y":0.3,"c":"hexN"},{"t":134.9,"y":0.18,"c":"hexN"},{"t":136.1,"y":0.36,"c":"hexN"},{"t":137.4,"y":0.02,"c":"hexN"},{"t":138.6,"y":0.24,"c":"hexN"},{"t":139.9,"y":0.14,"c":"hexN"},{"t":141.1,"y":0.32,"c":"hexN"},{"t":142.4,"y":0.4,"c":"hexN"},{"t":143.6,"y":0.1,"c":"hexN"},{"t":144.9,"y":0.26,"c":"hexN"},{"t":146.1,"y":0.2,"c":"hexN"},{"t":147.4,"y":0.35,"c":"hexN"},{"t":148.6,"y":0.05,"c":"hexN"},{"t":149.9,"y":0.28,"c":"hexN"},{"t":151.2,"y":0.16,"c":"hexN"},{"t":152.4,"y":0.42,"c":"hexN"},{"t":153.7,"y":0.1,"c":"hexN"},{"t":154.9,"y":0.3,"c":"hexN"},{"t":156.2,"y":0.2,"c":"hexN"},{"t":157.4,"y":0.38,"c":"hexN"},{"t":158.7,"y":0.04,"c":"hexN"},{"t":159.9,"y":0.25,"c":"hexN"},{"t":161.2,"y":0.14,"c":"hexN"},{"t":162.4,"y":0.32,"c":"hexN"},{"t":163.7,"y":0.45,"c":"hexN"},{"t":164.9,"y":0.08,"c":"hexN"},{"t":166.2,"y":0.28,"c":"hexN"},{"t":167.4,"y":0.18,"c":"hexN"},{"t":168.7,"y":0.36,"c":"hexN"},{"t":169.9,"y":0.02,"c":"hexN"},{"t":171.2,"y":0.22,"c":"hexN"},{"t":172.4,"y":0.12,"c":"hexN"},{"t":173.7,"y":0.3,"c":"hexN"},{"t":174.9,"y":0.4,"c":"hexN"},{"t":176.2,"y":0.06,"c":"hexN"},{"t":177.4,"y":0.26,"c":"hexN"},{"t":178.7,"y":0.16,"c":"hexN"},{"t":179.9,"y":0.34,"c":"hexN"},{"t":181.2,"y":0.22,"c":"hexN"},{"t":182.4,"y":0.42,"c":"hexN"},{"t":183.7,"y":0.1,"c":"hexN"},{"t":184.9,"y":0.3,"c":"hexN"},{"t":186.2,"y":0.18,"c":"hexN"},{"t":187.4,"y":0.38,"c":"hexN"},{"t":188.7,"y":0.05,"c":"hexN"},{"t":189.9,"y":0.25,"c":"hexN"},{"t":191.2,"y":0.14,"c":"hexN"},{"t":192.4,"y":0.32,"c":"hexN"},{"t":193.7,"y":0.44,"c":"hexN"},{"t":194.9,"y":0.1,"c":"hexN"},{"t":196.2,"y":0.28,"c":"hexN"},{"t":197.4,"y":0.18,"c":"hexN"},{"t":198.7,"y":0.36,"c":"hexN"},{"t":199.6,"y":0.06,"c":"hexN"},
      {"t":7.4,"y":0.33,"c":"hexN"},{"t":9.3,"y":0.07,"c":"hexN"},{"t":11.2,"y":0.41,"c":"hexN"},{"t":13.1,"y":0.19,"c":"hexN"},{"t":15,"y":0.27,"c":"hexN"},{"t":16.9,"y":0.11,"c":"hexN"},{"t":18.8,"y":0.47,"c":"hexN"},{"t":20.7,"y":0.23,"c":"hexN"},{"t":22.6,"y":0.03,"c":"hexN"},{"t":24.5,"y":0.37,"c":"hexN"},{"t":26.4,"y":0.33,"c":"hexN"},{"t":28.3,"y":0.07,"c":"hexN"},{"t":30.2,"y":0.41,"c":"hexN"},{"t":32.1,"y":0.19,"c":"hexN"},{"t":34,"y":0.27,"c":"hexN"},{"t":35.9,"y":0.11,"c":"hexN"},{"t":37.8,"y":0.47,"c":"hexN"},{"t":39.7,"y":0.23,"c":"hexN"},{"t":41.6,"y":0.03,"c":"hexN"},{"t":43.5,"y":0.37,"c":"hexN"},{"t":45.4,"y":0.33,"c":"hexN"},{"t":47.3,"y":0.07,"c":"hexN"},{"t":49.2,"y":0.41,"c":"hexN"},{"t":51.1,"y":0.19,"c":"hexN"},{"t":53,"y":0.27,"c":"hexN"},{"t":54.9,"y":0.11,"c":"hexN"},{"t":56.8,"y":0.47,"c":"hexN"},{"t":58.7,"y":0.23,"c":"hexN"},{"t":60.6,"y":0.03,"c":"hexN"},{"t":62.5,"y":0.37,"c":"hexN"},{"t":64.4,"y":0.33,"c":"hexN"},{"t":66.3,"y":0.07,"c":"hexN"},{"t":68.2,"y":0.41,"c":"hexN"},{"t":70.1,"y":0.19,"c":"hexN"},{"t":72,"y":0.27,"c":"hexN"},{"t":73.9,"y":0.11,"c":"hexN"},{"t":75.8,"y":0.47,"c":"hexN"},{"t":77.7,"y":0.23,"c":"hexN"},{"t":79.6,"y":0.03,"c":"hexN"},{"t":81.5,"y":0.37,"c":"hexN"},{"t":83.4,"y":0.33,"c":"hexN"},{"t":85.3,"y":0.07,"c":"hexN"},{"t":87.2,"y":0.41,"c":"hexN"},{"t":89.1,"y":0.19,"c":"hexN"},{"t":91,"y":0.27,"c":"hexN"},{"t":92.9,"y":0.11,"c":"hexN"},{"t":94.8,"y":0.47,"c":"hexN"},{"t":96.7,"y":0.23,"c":"hexN"},{"t":98.6,"y":0.03,"c":"hexN"},{"t":100.5,"y":0.37,"c":"hexN"},{"t":102.4,"y":0.33,"c":"hexN"},{"t":104.3,"y":0.07,"c":"hexN"},{"t":106.2,"y":0.41,"c":"hexN"},{"t":108.1,"y":0.19,"c":"hexN"},{"t":110,"y":0.27,"c":"hexN"},{"t":111.9,"y":0.11,"c":"hexN"},{"t":113.8,"y":0.47,"c":"hexN"},{"t":115.7,"y":0.23,"c":"hexN"},{"t":117.6,"y":0.03,"c":"hexN"},{"t":119.5,"y":0.37,"c":"hexN"},{"t":121.4,"y":0.33,"c":"hexN"},{"t":123.3,"y":0.07,"c":"hexN"},{"t":125.2,"y":0.41,"c":"hexN"},{"t":127.1,"y":0.19,"c":"hexN"},{"t":129,"y":0.27,"c":"hexN"},{"t":130.9,"y":0.11,"c":"hexN"},{"t":132.8,"y":0.47,"c":"hexN"},{"t":134.7,"y":0.23,"c":"hexN"},{"t":136.6,"y":0.03,"c":"hexN"},{"t":138.5,"y":0.37,"c":"hexN"},{"t":140.4,"y":0.33,"c":"hexN"},{"t":142.3,"y":0.07,"c":"hexN"},{"t":144.2,"y":0.41,"c":"hexN"},{"t":146.1,"y":0.19,"c":"hexN"},{"t":148,"y":0.27,"c":"hexN"},{"t":149.9,"y":0.11,"c":"hexN"},{"t":151.8,"y":0.47,"c":"hexN"},{"t":153.7,"y":0.23,"c":"hexN"},{"t":155.6,"y":0.03,"c":"hexN"},{"t":157.5,"y":0.37,"c":"hexN"},{"t":159.4,"y":0.33,"c":"hexN"},{"t":161.3,"y":0.07,"c":"hexN"},{"t":163.2,"y":0.41,"c":"hexN"},{"t":165.1,"y":0.19,"c":"hexN"},{"t":167,"y":0.27,"c":"hexN"},{"t":168.9,"y":0.11,"c":"hexN"},{"t":170.8,"y":0.47,"c":"hexN"},{"t":172.7,"y":0.23,"c":"hexN"},{"t":174.6,"y":0.03,"c":"hexN"},{"t":176.5,"y":0.37,"c":"hexN"},{"t":178.4,"y":0.33,"c":"hexN"},{"t":180.3,"y":0.07,"c":"hexN"},{"t":182.2,"y":0.41,"c":"hexN"},{"t":184.1,"y":0.19,"c":"hexN"},{"t":186,"y":0.27,"c":"hexN"},{"t":187.9,"y":0.11,"c":"hexN"},{"t":189.8,"y":0.47,"c":"hexN"},{"t":191.7,"y":0.23,"c":"hexN"},{"t":193.6,"y":0.03,"c":"hexN"},{"t":195.5,"y":0.37,"c":"hexN"},{"t":197.4,"y":0.33,"c":"hexN"},{"t":199.3,"y":0.07,"c":"hexN"},
      {"t":1.02,"y":1.25,"c":"RB"},{"t":1.15,"y":1.2,"c":"RB"},
      {"t":2.86,"y":1.3,"c":"dla"},{"t":3.04,"y":1.45,"c":"dla"},{"t":3.21,"y":1.55,"c":"dla"},{"t":3.39,"y":1.7,"c":"dla"},{"t":3.57,"y":1.6,"c":"dla"},{"t":3.75,"y":1.75,"c":"dla"},{"t":4.11,"y":1.85,"c":"dla"},{"t":4.46,"y":1.7,"c":"dla"},{"t":5,"y":1.88,"c":"dla"},{"t":3.04,"y":1.2,"c":"dla"},{"t":3.39,"y":1.35,"c":"dla"},{"t":3.93,"y":1.5,"c":"dla"},{"t":4.29,"y":1.45,"c":"dla"},{"t":3.57,"y":1.25,"c":"dla"},{"t":4.64,"y":1.6,"c":"dla"},
      {"t":4,"y":1.66,"c":"dlc"},{"t":4.8,"y":1.7,"c":"dlc"},{"t":6.2,"y":1.6,"c":"dlc"},{"t":7,"y":1.72,"c":"dlc"},{"t":3.6,"y":1.4,"c":"dlc"},{"t":4.5,"y":1.3,"c":"dlc"},{"t":3.2,"y":1.07,"c":"dlc"},{"t":3.8,"y":1.15,"c":"dlc"},{"t":4.8,"y":1.16,"c":"dlc"},{"t":3.6,"y":0.98,"c":"dlc"},{"t":4.3,"y":0.94,"c":"dlc"},{"t":5.1,"y":0.9,"c":"dlc"},{"t":4.5,"y":0.75,"c":"dlc"},{"t":5.4,"y":0.7,"c":"dlc"},{"t":6.5,"y":0.8,"c":"dlc"},{"t":4.8,"y":0.6,"c":"dlc"},{"t":5.6,"y":0.52,"c":"dlc"},{"t":6.2,"y":0.46,"c":"dlc"},{"t":5.4,"y":0.38,"c":"dlc"},{"t":5.9,"y":0.34,"c":"dlc"},{"t":6.5,"y":0.3,"c":"dlc"},{"t":5.8,"y":0.26,"c":"dlc"},{"t":6.3,"y":0.18,"c":"dlc"},{"t":6,"y":0.1,"c":"dlc"},{"t":6.8,"y":0.14,"c":"dlc"},{"t":6.5,"y":0.05,"c":"dlc"},{"t":7,"y":0.03,"c":"dlc"},{"t":5.6,"y":0.42,"c":"dlc"},{"t":7.2,"y":0.24,"c":"dlc"},{"t":5.2,"y":0.78,"c":"dlc"},{"t":3,"y":1.25,"c":"dlc"},{"t":3.4,"y":1.2,"c":"dlc"},
      {"t":30.9,"y":0.51,"c":"cIN"},{"t":32.7,"y":0.9,"c":"MN"},{"t":50,"y":0.51,"c":"cIN"},
      {"t":53.3,"y":0.9,"c":"MN"},{"t":53.9,"y":0.97,"c":"dIN"},{"t":54.2,"y":0.72,"c":"aIN"},{"t":54.7,"y":0.53,"c":"dIN"},{"t":55.4,"y":0.92,"c":"MN"},{"t":56.1,"y":0.86,"c":"dIN"},{"t":56.9,"y":0.96,"c":"MN"},{"t":57.5,"y":0.84,"c":"dIN"},{"t":99,"y":0.9,"c":"MN"},{"t":99.4,"y":0.85,"c":"dIN"},{"t":162.5,"y":3.02,"c":"dIN"},{"t":80.6,"y":2.97,"c":"dIN"},
      {"t":58.5,"y":0.8,"c":"dIN"},{"t":59.1,"y":0.68,"c":"dIN"},{"t":59.8,"y":0.58,"c":"dIN"},{"t":60.5,"y":0.54,"c":"dIN"},{"t":61.3,"y":0.56,"c":"dIN"},{"t":59,"y":0.95,"c":"dIN"},{"t":60,"y":1.02,"c":"dIN"},{"t":60.9,"y":1.12,"c":"dIN"},{"t":61.8,"y":1.24,"c":"dIN"},{"t":62.8,"y":1.4,"c":"dIN"},{"t":64,"y":1.58,"c":"dIN"},{"t":65.4,"y":1.8,"c":"dIN"},{"t":66.8,"y":1.98,"c":"dIN"},{"t":68.3,"y":2.15,"c":"dIN"},{"t":69.8,"y":2.32,"c":"dIN"},{"t":71.4,"y":2.46,"c":"dIN"},{"t":73,"y":2.58,"c":"dIN"},{"t":75,"y":2.7,"c":"dIN"},{"t":77.5,"y":2.82,"c":"dIN"},{"t":79.8,"y":2.92,"c":"dIN"},
      {"t":58.2,"y":0.88,"c":"dIN"},{"t":58.9,"y":0.74,"c":"dIN"},{"t":59.5,"y":0.63,"c":"dIN"},{"t":60.2,"y":0.58,"c":"dIN"},{"t":61,"y":0.6,"c":"dIN"},{"t":59.5,"y":0.9,"c":"dIN"},{"t":60.5,"y":1.06,"c":"dIN"},{"t":61.4,"y":1.18,"c":"dIN"},{"t":62.3,"y":1.32,"c":"dIN"},{"t":63.4,"y":1.5,"c":"dIN"},{"t":64.7,"y":1.7,"c":"dIN"},{"t":66.1,"y":1.9,"c":"dIN"},{"t":67.5,"y":2.06,"c":"dIN"},{"t":69,"y":2.24,"c":"dIN"},{"t":70.6,"y":2.4,"c":"dIN"},{"t":72.2,"y":2.52,"c":"dIN"},{"t":74,"y":2.64,"c":"dIN"},{"t":76.2,"y":2.76,"c":"dIN"},{"t":78.6,"y":2.86,"c":"dIN"},{"t":62,"y":0.62,"c":"dIN"},
      {"t":60.8,"y":0.8,"c":"MN"},{"t":62,"y":0.7,"c":"MN"},{"t":62.6,"y":1.05,"c":"MN"},{"t":63.4,"y":0.86,"c":"MN"},{"t":63.8,"y":1.3,"c":"MN"},{"t":64.6,"y":1.45,"c":"MN"},{"t":65.4,"y":1.35,"c":"MN"},{"t":66.2,"y":1.6,"c":"MN"},{"t":67,"y":1.55,"c":"MN"},{"t":67.8,"y":1.8,"c":"MN"},{"t":68.6,"y":1.72,"c":"MN"},{"t":69.4,"y":1.98,"c":"MN"},{"t":70.2,"y":1.9,"c":"MN"},{"t":71,"y":2.15,"c":"MN"},{"t":71.8,"y":2.08,"c":"MN"},{"t":72.6,"y":2.3,"c":"MN"},{"t":73.6,"y":2.4,"c":"MN"},{"t":74.6,"y":2.5,"c":"MN"},{"t":75.6,"y":2.6,"c":"MN"},{"t":76.6,"y":2.48,"c":"MN"},{"t":77.6,"y":2.72,"c":"MN"},{"t":78.6,"y":2.6,"c":"MN"},{"t":65,"y":1.12,"c":"MN"},{"t":68,"y":1.2,"c":"MN"},{"t":69.5,"y":0.92,"c":"MN"},
      {"t":61.4,"y":0.9,"c":"MN"},{"t":63,"y":1.15,"c":"MN"},{"t":64.2,"y":1.22,"c":"MN"},{"t":65,"y":1.55,"c":"MN"},{"t":65.8,"y":1.5,"c":"MN"},{"t":66.6,"y":1.75,"c":"MN"},{"t":67.4,"y":1.68,"c":"MN"},{"t":68.2,"y":1.92,"c":"MN"},{"t":69,"y":1.85,"c":"MN"},{"t":69.8,"y":2.1,"c":"MN"},{"t":70.6,"y":2.02,"c":"MN"},{"t":71.4,"y":2.25,"c":"MN"},{"t":72.2,"y":2.2,"c":"MN"},{"t":73,"y":2.45,"c":"MN"},{"t":74,"y":2.35,"c":"MN"},{"t":75,"y":2.62,"c":"MN"},{"t":76,"y":2.55,"c":"MN"},{"t":77,"y":2.68,"c":"MN"},{"t":79,"y":2.78,"c":"MN"},{"t":66.8,"y":1.3,"c":"MN"},{"t":64,"y":0.95,"c":"MN"},{"t":67,"y":1.05,"c":"MN"},
      {"t":61.6,"y":0.66,"c":"cIN"},{"t":64.8,"y":0.95,"c":"cIN"},{"t":66.4,"y":1.1,"c":"cIN"},{"t":68,"y":1.35,"c":"cIN"},{"t":69.8,"y":1.55,"c":"cIN"},{"t":71.4,"y":1.76,"c":"cIN"},{"t":73.2,"y":1.98,"c":"cIN"},{"t":75.2,"y":2.16,"c":"cIN"},{"t":70.5,"y":1.28,"c":"cIN"},
      {"t":63.2,"y":0.8,"c":"cIN"},{"t":65.6,"y":1.05,"c":"cIN"},{"t":67.2,"y":1.22,"c":"cIN"},{"t":68.8,"y":1.45,"c":"cIN"},{"t":70.6,"y":1.66,"c":"cIN"},{"t":72.2,"y":1.86,"c":"cIN"},{"t":74.2,"y":2.08,"c":"cIN"},
      {"t":64.4,"y":0.68,"c":"aIN"},{"t":66,"y":0.78,"c":"aIN"},{"t":67.4,"y":0.9,"c":"aIN"},{"t":71.6,"y":0.88,"c":"aIN"},
      {"t":100.5,"y":0.8,"c":"dIN"},{"t":101.1,"y":0.68,"c":"dIN"},{"t":101.8,"y":0.58,"c":"dIN"},{"t":102.5,"y":0.54,"c":"dIN"},{"t":103.3,"y":0.56,"c":"dIN"},{"t":101,"y":0.95,"c":"dIN"},{"t":102,"y":1.02,"c":"dIN"},{"t":102.9,"y":1.12,"c":"dIN"},{"t":103.8,"y":1.24,"c":"dIN"},{"t":104.8,"y":1.4,"c":"dIN"},{"t":106,"y":1.58,"c":"dIN"},{"t":107.4,"y":1.8,"c":"dIN"},{"t":108.8,"y":1.98,"c":"dIN"},{"t":110.3,"y":2.15,"c":"dIN"},{"t":111.8,"y":2.32,"c":"dIN"},{"t":113.4,"y":2.46,"c":"dIN"},{"t":115,"y":2.58,"c":"dIN"},{"t":117,"y":2.7,"c":"dIN"},{"t":119.5,"y":2.82,"c":"dIN"},{"t":121.8,"y":2.92,"c":"dIN"},
      {"t":100.2,"y":0.88,"c":"dIN"},{"t":100.9,"y":0.74,"c":"dIN"},{"t":101.5,"y":0.63,"c":"dIN"},{"t":102.2,"y":0.58,"c":"dIN"},{"t":103,"y":0.6,"c":"dIN"},{"t":101.5,"y":0.9,"c":"dIN"},{"t":102.5,"y":1.06,"c":"dIN"},{"t":103.4,"y":1.18,"c":"dIN"},{"t":104.3,"y":1.32,"c":"dIN"},{"t":105.4,"y":1.5,"c":"dIN"},{"t":106.7,"y":1.7,"c":"dIN"},{"t":108.1,"y":1.9,"c":"dIN"},{"t":109.5,"y":2.06,"c":"dIN"},{"t":111,"y":2.24,"c":"dIN"},{"t":112.6,"y":2.4,"c":"dIN"},{"t":114.2,"y":2.52,"c":"dIN"},{"t":116,"y":2.64,"c":"dIN"},{"t":118.2,"y":2.76,"c":"dIN"},{"t":120.6,"y":2.86,"c":"dIN"},{"t":104,"y":0.62,"c":"dIN"},
      {"t":102.8,"y":0.8,"c":"MN"},{"t":104,"y":0.7,"c":"MN"},{"t":104.6,"y":1.05,"c":"MN"},{"t":105.4,"y":0.86,"c":"MN"},{"t":105.8,"y":1.3,"c":"MN"},{"t":106.6,"y":1.45,"c":"MN"},{"t":107.4,"y":1.35,"c":"MN"},{"t":108.2,"y":1.6,"c":"MN"},{"t":109,"y":1.55,"c":"MN"},{"t":109.8,"y":1.8,"c":"MN"},{"t":110.6,"y":1.72,"c":"MN"},{"t":111.4,"y":1.98,"c":"MN"},{"t":112.2,"y":1.9,"c":"MN"},{"t":113,"y":2.15,"c":"MN"},{"t":113.8,"y":2.08,"c":"MN"},{"t":114.6,"y":2.3,"c":"MN"},{"t":115.6,"y":2.4,"c":"MN"},{"t":116.6,"y":2.5,"c":"MN"},{"t":117.6,"y":2.6,"c":"MN"},{"t":118.6,"y":2.48,"c":"MN"},{"t":119.6,"y":2.72,"c":"MN"},{"t":120.6,"y":2.6,"c":"MN"},{"t":107,"y":1.12,"c":"MN"},{"t":110,"y":1.2,"c":"MN"},{"t":111.5,"y":0.92,"c":"MN"},
      {"t":103.4,"y":0.9,"c":"MN"},{"t":105,"y":1.15,"c":"MN"},{"t":106.2,"y":1.22,"c":"MN"},{"t":107,"y":1.55,"c":"MN"},{"t":107.8,"y":1.5,"c":"MN"},{"t":108.6,"y":1.75,"c":"MN"},{"t":109.4,"y":1.68,"c":"MN"},{"t":110.2,"y":1.92,"c":"MN"},{"t":111,"y":1.85,"c":"MN"},{"t":111.8,"y":2.1,"c":"MN"},{"t":112.6,"y":2.02,"c":"MN"},{"t":113.4,"y":2.25,"c":"MN"},{"t":114.2,"y":2.2,"c":"MN"},{"t":115,"y":2.45,"c":"MN"},{"t":116,"y":2.35,"c":"MN"},{"t":117,"y":2.62,"c":"MN"},{"t":118,"y":2.55,"c":"MN"},{"t":119,"y":2.68,"c":"MN"},{"t":121,"y":2.78,"c":"MN"},{"t":108.8,"y":1.3,"c":"MN"},{"t":106,"y":0.95,"c":"MN"},{"t":109,"y":1.05,"c":"MN"},
      {"t":103.6,"y":0.66,"c":"cIN"},{"t":106.8,"y":0.95,"c":"cIN"},{"t":108.4,"y":1.1,"c":"cIN"},{"t":110,"y":1.35,"c":"cIN"},{"t":111.8,"y":1.55,"c":"cIN"},{"t":113.4,"y":1.76,"c":"cIN"},{"t":115.2,"y":1.98,"c":"cIN"},{"t":117.2,"y":2.16,"c":"cIN"},{"t":112.5,"y":1.28,"c":"cIN"},
      {"t":105.2,"y":0.8,"c":"cIN"},{"t":107.6,"y":1.05,"c":"cIN"},{"t":109.2,"y":1.22,"c":"cIN"},{"t":110.8,"y":1.45,"c":"cIN"},{"t":112.6,"y":1.66,"c":"cIN"},{"t":114.2,"y":1.86,"c":"cIN"},{"t":116.2,"y":2.08,"c":"cIN"},
      {"t":106.4,"y":0.68,"c":"aIN"},{"t":108,"y":0.78,"c":"aIN"},{"t":109.4,"y":0.9,"c":"aIN"},{"t":113.6,"y":0.88,"c":"aIN"},
      {"t":140,"y":0.8,"c":"dIN"},{"t":140.6,"y":0.68,"c":"dIN"},{"t":141.3,"y":0.58,"c":"dIN"},{"t":142,"y":0.54,"c":"dIN"},{"t":142.8,"y":0.56,"c":"dIN"},{"t":140.5,"y":0.95,"c":"dIN"},{"t":141.5,"y":1.02,"c":"dIN"},{"t":142.4,"y":1.12,"c":"dIN"},{"t":143.3,"y":1.24,"c":"dIN"},{"t":144.3,"y":1.4,"c":"dIN"},{"t":145.5,"y":1.58,"c":"dIN"},{"t":146.9,"y":1.8,"c":"dIN"},{"t":148.3,"y":1.98,"c":"dIN"},{"t":149.8,"y":2.15,"c":"dIN"},{"t":151.3,"y":2.32,"c":"dIN"},{"t":152.9,"y":2.46,"c":"dIN"},{"t":154.5,"y":2.58,"c":"dIN"},{"t":156.5,"y":2.7,"c":"dIN"},{"t":159,"y":2.82,"c":"dIN"},{"t":161.3,"y":2.92,"c":"dIN"},
      {"t":139.7,"y":0.88,"c":"dIN"},{"t":140.4,"y":0.74,"c":"dIN"},{"t":141,"y":0.63,"c":"dIN"},{"t":141.7,"y":0.58,"c":"dIN"},{"t":142.5,"y":0.6,"c":"dIN"},{"t":141,"y":0.9,"c":"dIN"},{"t":142,"y":1.06,"c":"dIN"},{"t":142.9,"y":1.18,"c":"dIN"},{"t":143.8,"y":1.32,"c":"dIN"},{"t":144.9,"y":1.5,"c":"dIN"},{"t":146.2,"y":1.7,"c":"dIN"},{"t":147.6,"y":1.9,"c":"dIN"},{"t":149,"y":2.06,"c":"dIN"},{"t":150.5,"y":2.24,"c":"dIN"},{"t":152.1,"y":2.4,"c":"dIN"},{"t":153.7,"y":2.52,"c":"dIN"},{"t":155.5,"y":2.64,"c":"dIN"},{"t":157.7,"y":2.76,"c":"dIN"},{"t":160.1,"y":2.86,"c":"dIN"},{"t":143.5,"y":0.62,"c":"dIN"},
      {"t":142.3,"y":0.8,"c":"MN"},{"t":143.5,"y":0.7,"c":"MN"},{"t":144.1,"y":1.05,"c":"MN"},{"t":144.9,"y":0.86,"c":"MN"},{"t":145.3,"y":1.3,"c":"MN"},{"t":146.1,"y":1.45,"c":"MN"},{"t":146.9,"y":1.35,"c":"MN"},{"t":147.7,"y":1.6,"c":"MN"},{"t":148.5,"y":1.55,"c":"MN"},{"t":149.3,"y":1.8,"c":"MN"},{"t":150.1,"y":1.72,"c":"MN"},{"t":150.9,"y":1.98,"c":"MN"},{"t":151.7,"y":1.9,"c":"MN"},{"t":152.5,"y":2.15,"c":"MN"},{"t":153.3,"y":2.08,"c":"MN"},{"t":154.1,"y":2.3,"c":"MN"},{"t":155.1,"y":2.4,"c":"MN"},{"t":156.1,"y":2.5,"c":"MN"},{"t":157.1,"y":2.6,"c":"MN"},{"t":158.1,"y":2.48,"c":"MN"},{"t":159.1,"y":2.72,"c":"MN"},{"t":160.1,"y":2.6,"c":"MN"},{"t":146.5,"y":1.12,"c":"MN"},{"t":149.5,"y":1.2,"c":"MN"},{"t":151,"y":0.92,"c":"MN"},
      {"t":142.9,"y":0.9,"c":"MN"},{"t":144.5,"y":1.15,"c":"MN"},{"t":145.7,"y":1.22,"c":"MN"},{"t":146.5,"y":1.55,"c":"MN"},{"t":147.3,"y":1.5,"c":"MN"},{"t":148.1,"y":1.75,"c":"MN"},{"t":148.9,"y":1.68,"c":"MN"},{"t":149.7,"y":1.92,"c":"MN"},{"t":150.5,"y":1.85,"c":"MN"},{"t":151.3,"y":2.1,"c":"MN"},{"t":152.1,"y":2.02,"c":"MN"},{"t":152.9,"y":2.25,"c":"MN"},{"t":153.7,"y":2.2,"c":"MN"},{"t":154.5,"y":2.45,"c":"MN"},{"t":155.5,"y":2.35,"c":"MN"},{"t":156.5,"y":2.62,"c":"MN"},{"t":157.5,"y":2.55,"c":"MN"},{"t":158.5,"y":2.68,"c":"MN"},{"t":160.5,"y":2.78,"c":"MN"},{"t":148.3,"y":1.3,"c":"MN"},{"t":145.5,"y":0.95,"c":"MN"},{"t":148.5,"y":1.05,"c":"MN"},
      {"t":143.1,"y":0.66,"c":"cIN"},{"t":146.3,"y":0.95,"c":"cIN"},{"t":147.9,"y":1.1,"c":"cIN"},{"t":149.5,"y":1.35,"c":"cIN"},{"t":151.3,"y":1.55,"c":"cIN"},{"t":152.9,"y":1.76,"c":"cIN"},{"t":154.7,"y":1.98,"c":"cIN"},{"t":156.7,"y":2.16,"c":"cIN"},{"t":152,"y":1.28,"c":"cIN"},
      {"t":144.7,"y":0.8,"c":"cIN"},{"t":147.1,"y":1.05,"c":"cIN"},{"t":148.7,"y":1.22,"c":"cIN"},{"t":150.3,"y":1.45,"c":"cIN"},{"t":152.1,"y":1.66,"c":"cIN"},{"t":153.7,"y":1.86,"c":"cIN"},{"t":155.7,"y":2.08,"c":"cIN"},
      {"t":145.9,"y":0.68,"c":"aIN"},{"t":147.5,"y":0.78,"c":"aIN"},{"t":148.9,"y":0.9,"c":"aIN"},{"t":153.1,"y":0.88,"c":"aIN"},
      {"t":179.9,"y":0.8,"c":"dIN"},{"t":180.38,"y":0.68,"c":"dIN"},{"t":180.94,"y":0.58,"c":"dIN"},{"t":181.5,"y":0.54,"c":"dIN"},{"t":182.14,"y":0.56,"c":"dIN"},{"t":180.3,"y":0.95,"c":"dIN"},{"t":181.1,"y":1.02,"c":"dIN"},{"t":181.82,"y":1.12,"c":"dIN"},{"t":182.54,"y":1.24,"c":"dIN"},{"t":183.34,"y":1.4,"c":"dIN"},{"t":184.3,"y":1.58,"c":"dIN"},{"t":185.42,"y":1.8,"c":"dIN"},{"t":186.54,"y":1.98,"c":"dIN"},{"t":187.74,"y":2.15,"c":"dIN"},{"t":188.94,"y":2.32,"c":"dIN"},{"t":190.22,"y":2.46,"c":"dIN"},{"t":191.5,"y":2.58,"c":"dIN"},{"t":193.1,"y":2.7,"c":"dIN"},{"t":195.1,"y":2.82,"c":"dIN"},{"t":196.94,"y":2.92,"c":"dIN"},
      {"t":179.66,"y":0.88,"c":"dIN"},{"t":180.22,"y":0.74,"c":"dIN"},{"t":180.7,"y":0.63,"c":"dIN"},{"t":181.26,"y":0.58,"c":"dIN"},{"t":181.9,"y":0.6,"c":"dIN"},{"t":180.7,"y":0.9,"c":"dIN"},{"t":181.5,"y":1.06,"c":"dIN"},{"t":182.22,"y":1.18,"c":"dIN"},{"t":182.94,"y":1.32,"c":"dIN"},{"t":183.82,"y":1.5,"c":"dIN"},{"t":184.86,"y":1.7,"c":"dIN"},{"t":185.98,"y":1.9,"c":"dIN"},{"t":187.1,"y":2.06,"c":"dIN"},{"t":188.3,"y":2.24,"c":"dIN"},{"t":189.58,"y":2.4,"c":"dIN"},{"t":190.86,"y":2.52,"c":"dIN"},{"t":192.3,"y":2.64,"c":"dIN"},{"t":194.06,"y":2.76,"c":"dIN"},{"t":195.98,"y":2.86,"c":"dIN"},{"t":182.7,"y":0.62,"c":"dIN"},
      {"t":181.74,"y":0.8,"c":"MN"},{"t":182.7,"y":0.7,"c":"MN"},{"t":183.18,"y":1.05,"c":"MN"},{"t":183.82,"y":0.86,"c":"MN"},{"t":184.14,"y":1.3,"c":"MN"},{"t":184.78,"y":1.45,"c":"MN"},{"t":185.42,"y":1.35,"c":"MN"},{"t":186.06,"y":1.6,"c":"MN"},{"t":186.7,"y":1.55,"c":"MN"},{"t":187.34,"y":1.8,"c":"MN"},{"t":187.98,"y":1.72,"c":"MN"},{"t":188.62,"y":1.98,"c":"MN"},{"t":189.26,"y":1.9,"c":"MN"},{"t":189.9,"y":2.15,"c":"MN"},{"t":190.54,"y":2.08,"c":"MN"},{"t":191.18,"y":2.3,"c":"MN"},{"t":191.98,"y":2.4,"c":"MN"},{"t":192.78,"y":2.5,"c":"MN"},{"t":193.58,"y":2.6,"c":"MN"},{"t":194.38,"y":2.48,"c":"MN"},{"t":195.18,"y":2.72,"c":"MN"},{"t":195.98,"y":2.6,"c":"MN"},{"t":185.1,"y":1.12,"c":"MN"},{"t":187.5,"y":1.2,"c":"MN"},{"t":188.7,"y":0.92,"c":"MN"},
      {"t":182.22,"y":0.9,"c":"MN"},{"t":183.5,"y":1.15,"c":"MN"},{"t":184.46,"y":1.22,"c":"MN"},{"t":185.1,"y":1.55,"c":"MN"},{"t":185.74,"y":1.5,"c":"MN"},{"t":186.38,"y":1.75,"c":"MN"},{"t":187.02,"y":1.68,"c":"MN"},{"t":187.66,"y":1.92,"c":"MN"},{"t":188.3,"y":1.85,"c":"MN"},{"t":188.94,"y":2.1,"c":"MN"},{"t":189.58,"y":2.02,"c":"MN"},{"t":190.22,"y":2.25,"c":"MN"},{"t":190.86,"y":2.2,"c":"MN"},{"t":191.5,"y":2.45,"c":"MN"},{"t":192.3,"y":2.35,"c":"MN"},{"t":193.1,"y":2.62,"c":"MN"},{"t":193.9,"y":2.55,"c":"MN"},{"t":194.7,"y":2.68,"c":"MN"},{"t":196.3,"y":2.78,"c":"MN"},{"t":186.54,"y":1.3,"c":"MN"},{"t":184.3,"y":0.95,"c":"MN"},{"t":186.7,"y":1.05,"c":"MN"},
      {"t":182.38,"y":0.66,"c":"cIN"},{"t":184.94,"y":0.95,"c":"cIN"},{"t":186.22,"y":1.1,"c":"cIN"},{"t":187.5,"y":1.35,"c":"cIN"},{"t":188.94,"y":1.55,"c":"cIN"},{"t":190.22,"y":1.76,"c":"cIN"},{"t":191.66,"y":1.98,"c":"cIN"},{"t":193.26,"y":2.16,"c":"cIN"},{"t":189.5,"y":1.28,"c":"cIN"},
      {"t":183.66,"y":0.8,"c":"cIN"},{"t":185.58,"y":1.05,"c":"cIN"},{"t":186.86,"y":1.22,"c":"cIN"},{"t":188.14,"y":1.45,"c":"cIN"},{"t":189.58,"y":1.66,"c":"cIN"},{"t":190.86,"y":1.86,"c":"cIN"},{"t":192.46,"y":2.08,"c":"cIN"},
      {"t":184.62,"y":0.68,"c":"aIN"},{"t":185.9,"y":0.78,"c":"aIN"},{"t":187.02,"y":0.9,"c":"aIN"},{"t":190.38,"y":0.88,"c":"aIN"}
    ],
    "rasterR": [
      {"t":6,"y":0.14,"c":"hexN"},{"t":6.9,"y":0.3,"c":"hexN"},{"t":7.7,"y":0.08,"c":"hexN"},{"t":8.5,"y":0.4,"c":"hexN"},{"t":9.4,"y":0.22,"c":"hexN"},{"t":10.3,"y":0.02,"c":"hexN"},{"t":11.1,"y":0.33,"c":"hexN"},{"t":11.9,"y":0.16,"c":"hexN"},{"t":12.9,"y":0.45,"c":"hexN"},{"t":13.7,"y":0.25,"c":"hexN"},{"t":14.6,"y":0.06,"c":"hexN"},{"t":15.5,"y":0.36,"c":"hexN"},{"t":16.4,"y":0.2,"c":"hexN"},{"t":17.3,"y":0.1,"c":"hexN"},{"t":18.3,"y":0.3,"c":"hexN"},{"t":19.2,"y":0.42,"c":"hexN"},{"t":20.1,"y":0.15,"c":"hexN"},{"t":21,"y":0.27,"c":"hexN"},{"t":22,"y":0.04,"c":"hexN"},{"t":22.9,"y":0.38,"c":"hexN"},{"t":23.9,"y":0.2,"c":"hexN"},{"t":24.8,"y":0.12,"c":"hexN"},{"t":25.8,"y":0.32,"c":"hexN"},{"t":26.7,"y":0.46,"c":"hexN"},{"t":27.7,"y":0.18,"c":"hexN"},{"t":28.6,"y":0.06,"c":"hexN"},{"t":29.6,"y":0.28,"c":"hexN"},{"t":30.6,"y":0.4,"c":"hexN"},{"t":31.6,"y":0.1,"c":"hexN"},{"t":32.6,"y":0.22,"c":"hexN"},{"t":33.6,"y":0.34,"c":"hexN"},{"t":34.6,"y":0.02,"c":"hexN"},{"t":35.6,"y":0.16,"c":"hexN"},{"t":36.7,"y":0.3,"c":"hexN"},{"t":37.7,"y":0.44,"c":"hexN"},{"t":38.7,"y":0.12,"c":"hexN"},{"t":39.8,"y":0.24,"c":"hexN"},{"t":40.8,"y":0.36,"c":"hexN"},{"t":41.9,"y":0.06,"c":"hexN"},{"t":42.9,"y":0.2,"c":"hexN"},{"t":44,"y":0.32,"c":"hexN"},{"t":45.1,"y":0.14,"c":"hexN"},{"t":46.1,"y":0.42,"c":"hexN"},{"t":47.2,"y":0.04,"c":"hexN"},{"t":48.3,"y":0.26,"c":"hexN"},{"t":49.4,"y":0.18,"c":"hexN"},{"t":50.5,"y":0.38,"c":"hexN"},{"t":51.6,"y":0.1,"c":"hexN"},{"t":52.7,"y":0.3,"c":"hexN"},{"t":53.8,"y":0.22,"c":"hexN"},{"t":54.9,"y":0.45,"c":"hexN"},{"t":56,"y":0.06,"c":"hexN"},{"t":57.2,"y":0.16,"c":"hexN"},{"t":58.3,"y":0.34,"c":"hexN"},{"t":59.4,"y":0.26,"c":"hexN"},{"t":60.6,"y":0.02,"c":"hexN"},{"t":61.7,"y":0.4,"c":"hexN"},{"t":62.9,"y":0.12,"c":"hexN"},{"t":64,"y":0.28,"c":"hexN"},{"t":65.2,"y":0.2,"c":"hexN"},{"t":66.3,"y":0.36,"c":"hexN"},{"t":67.5,"y":0.08,"c":"hexN"},{"t":68.7,"y":0.3,"c":"hexN"},{"t":69.8,"y":0.44,"c":"hexN"},{"t":71,"y":0.14,"c":"hexN"},{"t":72.2,"y":0.24,"c":"hexN"},{"t":73.4,"y":0.04,"c":"hexN"},{"t":74.6,"y":0.34,"c":"hexN"},{"t":75.8,"y":0.18,"c":"hexN"},{"t":77,"y":0.42,"c":"hexN"},{"t":78.2,"y":0.1,"c":"hexN"},{"t":79.4,"y":0.26,"c":"hexN"},{"t":80.6,"y":0.06,"c":"hexN"},{"t":81.8,"y":0.2,"c":"hexN"},{"t":83,"y":0.38,"c":"hexN"},{"t":84.2,"y":0.12,"c":"hexN"},{"t":85.5,"y":0.3,"c":"hexN"},{"t":86.7,"y":0.22,"c":"hexN"},{"t":87.9,"y":0.02,"c":"hexN"},{"t":89.2,"y":0.35,"c":"hexN"},{"t":90.4,"y":0.16,"c":"hexN"},{"t":91.7,"y":0.44,"c":"hexN"},{"t":92.9,"y":0.08,"c":"hexN"},{"t":94.2,"y":0.28,"c":"hexN"},{"t":95.4,"y":0.18,"c":"hexN"},{"t":96.7,"y":0.4,"c":"hexN"},{"t":97.9,"y":0.05,"c":"hexN"},{"t":99.2,"y":0.24,"c":"hexN"},{"t":100.5,"y":0.34,"c":"hexN"},{"t":101.7,"y":0.14,"c":"hexN"},{"t":103,"y":0.3,"c":"hexN"},{"t":104.3,"y":0.2,"c":"hexN"},{"t":105.6,"y":0.42,"c":"hexN"},{"t":106.8,"y":0.06,"c":"hexN"},{"t":108.1,"y":0.26,"c":"hexN"},{"t":109.4,"y":0.16,"c":"hexN"},{"t":110.7,"y":0.36,"c":"hexN"},{"t":112,"y":0.1,"c":"hexN"},{"t":113.3,"y":0.3,"c":"hexN"},{"t":114.6,"y":0.44,"c":"hexN"},{"t":115.9,"y":0.02,"c":"hexN"},{"t":117.2,"y":0.22,"c":"hexN"},{"t":118.5,"y":0.34,"c":"hexN"},{"t":119.8,"y":0.12,"c":"hexN"},{"t":121.1,"y":0.28,"c":"hexN"},{"t":122.4,"y":0.18,"c":"hexN"},{"t":123.7,"y":0.4,"c":"hexN"},{"t":125,"y":0.06,"c":"hexN"},{"t":126.3,"y":0.24,"c":"hexN"},{"t":127.6,"y":0.14,"c":"hexN"},{"t":128.9,"y":0.32,"c":"hexN"},{"t":130.2,"y":0.46,"c":"hexN"},{"t":131.5,"y":0.08,"c":"hexN"},{"t":132.8,"y":0.2,"c":"hexN"},{"t":134.1,"y":0.36,"c":"hexN"},{"t":135.4,"y":0.16,"c":"hexN"},{"t":136.7,"y":0.28,"c":"hexN"},{"t":138,"y":0.04,"c":"hexN"},{"t":139.3,"y":0.38,"c":"hexN"},{"t":140.6,"y":0.12,"c":"hexN"},{"t":141.9,"y":0.24,"c":"hexN"},{"t":143.2,"y":0.42,"c":"hexN"},{"t":144.5,"y":0.1,"c":"hexN"},{"t":145.8,"y":0.3,"c":"hexN"},{"t":147.1,"y":0.18,"c":"hexN"},{"t":148.4,"y":0.36,"c":"hexN"},{"t":149.7,"y":0.02,"c":"hexN"},{"t":151,"y":0.26,"c":"hexN"},{"t":152.3,"y":0.14,"c":"hexN"},{"t":153.6,"y":0.4,"c":"hexN"},{"t":154.9,"y":0.08,"c":"hexN"},{"t":156.2,"y":0.32,"c":"hexN"},{"t":157.5,"y":0.2,"c":"hexN"},{"t":158.8,"y":0.44,"c":"hexN"},{"t":160.1,"y":0.06,"c":"hexN"},{"t":161.4,"y":0.24,"c":"hexN"},{"t":162.7,"y":0.34,"c":"hexN"},{"t":164,"y":0.12,"c":"hexN"},{"t":165.3,"y":0.28,"c":"hexN"},{"t":166.6,"y":0.18,"c":"hexN"},{"t":167.9,"y":0.42,"c":"hexN"},{"t":169.2,"y":0.04,"c":"hexN"},{"t":170.5,"y":0.22,"c":"hexN"},{"t":171.8,"y":0.36,"c":"hexN"},{"t":173.1,"y":0.1,"c":"hexN"},{"t":174.4,"y":0.3,"c":"hexN"},{"t":175.7,"y":0.16,"c":"hexN"},{"t":177,"y":0.44,"c":"hexN"},{"t":178.3,"y":0.06,"c":"hexN"},{"t":179.6,"y":0.26,"c":"hexN"},{"t":180.9,"y":0.2,"c":"hexN"},{"t":182.2,"y":0.38,"c":"hexN"},{"t":183.5,"y":0.12,"c":"hexN"},{"t":184.8,"y":0.32,"c":"hexN"},{"t":186.1,"y":0.02,"c":"hexN"},{"t":187.4,"y":0.24,"c":"hexN"},{"t":188.7,"y":0.4,"c":"hexN"},{"t":190,"y":0.14,"c":"hexN"},{"t":191.3,"y":0.3,"c":"hexN"},{"t":192.6,"y":0.2,"c":"hexN"},{"t":193.9,"y":0.46,"c":"hexN"},{"t":195.2,"y":0.08,"c":"hexN"},{"t":196.5,"y":0.28,"c":"hexN"},{"t":197.8,"y":0.16,"c":"hexN"},{"t":199.1,"y":0.36,"c":"hexN"},
      {"t":8.35,"y":0.2,"c":"hexN"},{"t":10.25,"y":0.44,"c":"hexN"},{"t":12.15,"y":0.09,"c":"hexN"},{"t":14.05,"y":0.3,"c":"hexN"},{"t":15.95,"y":0.16,"c":"hexN"},{"t":17.85,"y":0.38,"c":"hexN"},{"t":19.75,"y":0.01,"c":"hexN"},{"t":21.65,"y":0.26,"c":"hexN"},{"t":23.55,"y":0.48,"c":"hexN"},{"t":25.45,"y":0.13,"c":"hexN"},{"t":27.35,"y":0.2,"c":"hexN"},{"t":29.25,"y":0.44,"c":"hexN"},{"t":31.15,"y":0.09,"c":"hexN"},{"t":33.05,"y":0.3,"c":"hexN"},{"t":34.95,"y":0.16,"c":"hexN"},{"t":36.85,"y":0.38,"c":"hexN"},{"t":38.75,"y":0.01,"c":"hexN"},{"t":40.65,"y":0.26,"c":"hexN"},{"t":42.55,"y":0.48,"c":"hexN"},{"t":44.45,"y":0.13,"c":"hexN"},{"t":46.35,"y":0.2,"c":"hexN"},{"t":48.25,"y":0.44,"c":"hexN"},{"t":50.15,"y":0.09,"c":"hexN"},{"t":52.05,"y":0.3,"c":"hexN"},{"t":53.95,"y":0.16,"c":"hexN"},{"t":55.85,"y":0.38,"c":"hexN"},{"t":57.75,"y":0.01,"c":"hexN"},{"t":59.65,"y":0.26,"c":"hexN"},{"t":61.55,"y":0.48,"c":"hexN"},{"t":63.45,"y":0.13,"c":"hexN"},{"t":65.35,"y":0.2,"c":"hexN"},{"t":67.25,"y":0.44,"c":"hexN"},{"t":69.15,"y":0.09,"c":"hexN"},{"t":71.05,"y":0.3,"c":"hexN"},{"t":72.95,"y":0.16,"c":"hexN"},{"t":74.85,"y":0.38,"c":"hexN"},{"t":76.75,"y":0.01,"c":"hexN"},{"t":78.65,"y":0.26,"c":"hexN"},{"t":80.55,"y":0.48,"c":"hexN"},{"t":82.45,"y":0.13,"c":"hexN"},{"t":84.35,"y":0.2,"c":"hexN"},{"t":86.25,"y":0.44,"c":"hexN"},{"t":88.15,"y":0.09,"c":"hexN"},{"t":90.05,"y":0.3,"c":"hexN"},{"t":91.95,"y":0.16,"c":"hexN"},{"t":93.85,"y":0.38,"c":"hexN"},{"t":95.75,"y":0.01,"c":"hexN"},{"t":97.65,"y":0.26,"c":"hexN"},{"t":99.55,"y":0.48,"c":"hexN"},{"t":101.45,"y":0.13,"c":"hexN"},{"t":103.35,"y":0.2,"c":"hexN"},{"t":105.25,"y":0.44,"c":"hexN"},{"t":107.15,"y":0.09,"c":"hexN"},{"t":109.05,"y":0.3,"c":"hexN"},{"t":110.95,"y":0.16,"c":"hexN"},{"t":112.85,"y":0.38,"c":"hexN"},{"t":114.75,"y":0.01,"c":"hexN"},{"t":116.65,"y":0.26,"c":"hexN"},{"t":118.55,"y":0.48,"c":"hexN"},{"t":120.45,"y":0.13,"c":"hexN"},{"t":122.35,"y":0.2,"c":"hexN"},{"t":124.25,"y":0.44,"c":"hexN"},{"t":126.15,"y":0.09,"c":"hexN"},{"t":128.05,"y":0.3,"c":"hexN"},{"t":129.95,"y":0.16,"c":"hexN"},{"t":131.85,"y":0.38,"c":"hexN"},{"t":133.75,"y":0.01,"c":"hexN"},{"t":135.65,"y":0.26,"c":"hexN"},{"t":137.55,"y":0.48,"c":"hexN"},{"t":139.45,"y":0.13,"c":"hexN"},{"t":141.35,"y":0.2,"c":"hexN"},{"t":143.25,"y":0.44,"c":"hexN"},{"t":145.15,"y":0.09,"c":"hexN"},{"t":147.05,"y":0.3,"c":"hexN"},{"t":148.95,"y":0.16,"c":"hexN"},{"t":150.85,"y":0.38,"c":"hexN"},{"t":152.75,"y":0.01,"c":"hexN"},{"t":154.65,"y":0.26,"c":"hexN"},{"t":156.55,"y":0.48,"c":"hexN"},{"t":158.45,"y":0.13,"c":"hexN"},{"t":160.35,"y":0.2,"c":"hexN"},{"t":162.25,"y":0.44,"c":"hexN"},{"t":164.15,"y":0.09,"c":"hexN"},{"t":166.05,"y":0.3,"c":"hexN"},{"t":167.95,"y":0.16,"c":"hexN"},{"t":169.85,"y":0.38,"c":"hexN"},{"t":171.75,"y":0.01,"c":"hexN"},{"t":173.65,"y":0.26,"c":"hexN"},{"t":175.55,"y":0.48,"c":"hexN"},{"t":177.45,"y":0.13,"c":"hexN"},{"t":179.35,"y":0.2,"c":"hexN"},{"t":181.25,"y":0.44,"c":"hexN"},{"t":183.15,"y":0.09,"c":"hexN"},{"t":185.05,"y":0.3,"c":"hexN"},{"t":186.95,"y":0.16,"c":"hexN"},{"t":188.85,"y":0.38,"c":"hexN"},{"t":190.75,"y":0.01,"c":"hexN"},{"t":192.65,"y":0.26,"c":"hexN"},{"t":194.55,"y":0.48,"c":"hexN"},{"t":196.45,"y":0.13,"c":"hexN"},{"t":198.35,"y":0.2,"c":"hexN"},
      {"t":24.1,"y":0.48,"c":"dIN"},{"t":25.6,"y":0.63,"c":"dIN"},{"t":26.6,"y":0.58,"c":"dIN"},{"t":28,"y":0.68,"c":"dIN"},{"t":29,"y":0.72,"c":"dIN"},{"t":199.6,"y":0.7,"c":"dIN"},{"t":53.9,"y":3.18,"c":"dIN"},
      {"t":29.95,"y":0.8,"c":"dIN"},{"t":30.49,"y":0.68,"c":"dIN"},{"t":31.12,"y":0.58,"c":"dIN"},{"t":31.75,"y":0.54,"c":"dIN"},{"t":32.47,"y":0.56,"c":"dIN"},{"t":30.4,"y":0.95,"c":"dIN"},{"t":31.3,"y":1.02,"c":"dIN"},{"t":32.11,"y":1.12,"c":"dIN"},{"t":32.92,"y":1.24,"c":"dIN"},{"t":33.82,"y":1.4,"c":"dIN"},{"t":34.9,"y":1.58,"c":"dIN"},{"t":36.16,"y":1.8,"c":"dIN"},{"t":37.42,"y":1.98,"c":"dIN"},{"t":38.77,"y":2.15,"c":"dIN"},{"t":40.12,"y":2.32,"c":"dIN"},{"t":41.56,"y":2.46,"c":"dIN"},{"t":43,"y":2.58,"c":"dIN"},{"t":44.8,"y":2.7,"c":"dIN"},{"t":47.05,"y":2.82,"c":"dIN"},{"t":49.12,"y":2.92,"c":"dIN"},
      {"t":29.68,"y":0.88,"c":"dIN"},{"t":30.31,"y":0.74,"c":"dIN"},{"t":30.85,"y":0.63,"c":"dIN"},{"t":31.48,"y":0.58,"c":"dIN"},{"t":32.2,"y":0.6,"c":"dIN"},{"t":30.85,"y":0.9,"c":"dIN"},{"t":31.75,"y":1.06,"c":"dIN"},{"t":32.56,"y":1.18,"c":"dIN"},{"t":33.37,"y":1.32,"c":"dIN"},{"t":34.36,"y":1.5,"c":"dIN"},{"t":35.53,"y":1.7,"c":"dIN"},{"t":36.79,"y":1.9,"c":"dIN"},{"t":38.05,"y":2.06,"c":"dIN"},{"t":39.4,"y":2.24,"c":"dIN"},{"t":40.84,"y":2.4,"c":"dIN"},{"t":42.28,"y":2.52,"c":"dIN"},{"t":43.9,"y":2.64,"c":"dIN"},{"t":45.88,"y":2.76,"c":"dIN"},{"t":48.04,"y":2.86,"c":"dIN"},{"t":33.1,"y":0.62,"c":"dIN"},
      {"t":32.02,"y":0.8,"c":"MN"},{"t":33.1,"y":0.7,"c":"MN"},{"t":33.64,"y":1.05,"c":"MN"},{"t":34.36,"y":0.86,"c":"MN"},{"t":34.72,"y":1.3,"c":"MN"},{"t":35.44,"y":1.45,"c":"MN"},{"t":36.16,"y":1.35,"c":"MN"},{"t":36.88,"y":1.6,"c":"MN"},{"t":37.6,"y":1.55,"c":"MN"},{"t":38.32,"y":1.8,"c":"MN"},{"t":39.04,"y":1.72,"c":"MN"},{"t":39.76,"y":1.98,"c":"MN"},{"t":40.48,"y":1.9,"c":"MN"},{"t":41.2,"y":2.15,"c":"MN"},{"t":41.92,"y":2.08,"c":"MN"},{"t":42.64,"y":2.3,"c":"MN"},{"t":43.54,"y":2.4,"c":"MN"},{"t":44.44,"y":2.5,"c":"MN"},{"t":45.34,"y":2.6,"c":"MN"},{"t":46.24,"y":2.48,"c":"MN"},{"t":47.14,"y":2.72,"c":"MN"},{"t":48.04,"y":2.6,"c":"MN"},{"t":35.8,"y":1.12,"c":"MN"},{"t":38.5,"y":1.2,"c":"MN"},{"t":39.85,"y":0.92,"c":"MN"},
      {"t":32.56,"y":0.9,"c":"MN"},{"t":34,"y":1.15,"c":"MN"},{"t":35.08,"y":1.22,"c":"MN"},{"t":35.8,"y":1.55,"c":"MN"},{"t":36.52,"y":1.5,"c":"MN"},{"t":37.24,"y":1.75,"c":"MN"},{"t":37.96,"y":1.68,"c":"MN"},{"t":38.68,"y":1.92,"c":"MN"},{"t":39.4,"y":1.85,"c":"MN"},{"t":40.12,"y":2.1,"c":"MN"},{"t":40.84,"y":2.02,"c":"MN"},{"t":41.56,"y":2.25,"c":"MN"},{"t":42.28,"y":2.2,"c":"MN"},{"t":43,"y":2.45,"c":"MN"},{"t":43.9,"y":2.35,"c":"MN"},{"t":44.8,"y":2.62,"c":"MN"},{"t":45.7,"y":2.55,"c":"MN"},{"t":46.6,"y":2.68,"c":"MN"},{"t":48.4,"y":2.78,"c":"MN"},{"t":37.42,"y":1.3,"c":"MN"},{"t":34.9,"y":0.95,"c":"MN"},{"t":37.6,"y":1.05,"c":"MN"},
      {"t":32.74,"y":0.66,"c":"cIN"},{"t":35.62,"y":0.95,"c":"cIN"},{"t":37.06,"y":1.1,"c":"cIN"},{"t":38.5,"y":1.35,"c":"cIN"},{"t":40.12,"y":1.55,"c":"cIN"},{"t":41.56,"y":1.76,"c":"cIN"},{"t":43.18,"y":1.98,"c":"cIN"},{"t":44.98,"y":2.16,"c":"cIN"},{"t":40.75,"y":1.28,"c":"cIN"},
      {"t":34.18,"y":0.8,"c":"cIN"},{"t":36.34,"y":1.05,"c":"cIN"},{"t":37.78,"y":1.22,"c":"cIN"},{"t":39.22,"y":1.45,"c":"cIN"},{"t":40.84,"y":1.66,"c":"cIN"},{"t":42.28,"y":1.86,"c":"cIN"},{"t":44.08,"y":2.08,"c":"cIN"},
      {"t":35.26,"y":0.68,"c":"aIN"},{"t":36.7,"y":0.78,"c":"aIN"},{"t":37.96,"y":0.9,"c":"aIN"},{"t":41.74,"y":0.88,"c":"aIN"},
      {"t":80,"y":0.8,"c":"dIN"},{"t":80.6,"y":0.68,"c":"dIN"},{"t":81.3,"y":0.58,"c":"dIN"},{"t":82,"y":0.54,"c":"dIN"},{"t":82.8,"y":0.56,"c":"dIN"},{"t":80.5,"y":0.95,"c":"dIN"},{"t":81.5,"y":1.02,"c":"dIN"},{"t":82.4,"y":1.12,"c":"dIN"},{"t":83.3,"y":1.24,"c":"dIN"},{"t":84.3,"y":1.4,"c":"dIN"},{"t":85.5,"y":1.58,"c":"dIN"},{"t":86.9,"y":1.8,"c":"dIN"},{"t":88.3,"y":1.98,"c":"dIN"},{"t":89.8,"y":2.15,"c":"dIN"},{"t":91.3,"y":2.32,"c":"dIN"},{"t":92.9,"y":2.46,"c":"dIN"},{"t":94.5,"y":2.58,"c":"dIN"},{"t":96.5,"y":2.7,"c":"dIN"},{"t":99,"y":2.82,"c":"dIN"},{"t":101.3,"y":2.92,"c":"dIN"},
      {"t":79.7,"y":0.88,"c":"dIN"},{"t":80.4,"y":0.74,"c":"dIN"},{"t":81,"y":0.63,"c":"dIN"},{"t":81.7,"y":0.58,"c":"dIN"},{"t":82.5,"y":0.6,"c":"dIN"},{"t":81,"y":0.9,"c":"dIN"},{"t":82,"y":1.06,"c":"dIN"},{"t":82.9,"y":1.18,"c":"dIN"},{"t":83.8,"y":1.32,"c":"dIN"},{"t":84.9,"y":1.5,"c":"dIN"},{"t":86.2,"y":1.7,"c":"dIN"},{"t":87.6,"y":1.9,"c":"dIN"},{"t":89,"y":2.06,"c":"dIN"},{"t":90.5,"y":2.24,"c":"dIN"},{"t":92.1,"y":2.4,"c":"dIN"},{"t":93.7,"y":2.52,"c":"dIN"},{"t":95.5,"y":2.64,"c":"dIN"},{"t":97.7,"y":2.76,"c":"dIN"},{"t":100.1,"y":2.86,"c":"dIN"},{"t":83.5,"y":0.62,"c":"dIN"},
      {"t":82.3,"y":0.8,"c":"MN"},{"t":83.5,"y":0.7,"c":"MN"},{"t":84.1,"y":1.05,"c":"MN"},{"t":84.9,"y":0.86,"c":"MN"},{"t":85.3,"y":1.3,"c":"MN"},{"t":86.1,"y":1.45,"c":"MN"},{"t":86.9,"y":1.35,"c":"MN"},{"t":87.7,"y":1.6,"c":"MN"},{"t":88.5,"y":1.55,"c":"MN"},{"t":89.3,"y":1.8,"c":"MN"},{"t":90.1,"y":1.72,"c":"MN"},{"t":90.9,"y":1.98,"c":"MN"},{"t":91.7,"y":1.9,"c":"MN"},{"t":92.5,"y":2.15,"c":"MN"},{"t":93.3,"y":2.08,"c":"MN"},{"t":94.1,"y":2.3,"c":"MN"},{"t":95.1,"y":2.4,"c":"MN"},{"t":96.1,"y":2.5,"c":"MN"},{"t":97.1,"y":2.6,"c":"MN"},{"t":98.1,"y":2.48,"c":"MN"},{"t":99.1,"y":2.72,"c":"MN"},{"t":100.1,"y":2.6,"c":"MN"},{"t":86.5,"y":1.12,"c":"MN"},{"t":89.5,"y":1.2,"c":"MN"},{"t":91,"y":0.92,"c":"MN"},
      {"t":82.9,"y":0.9,"c":"MN"},{"t":84.5,"y":1.15,"c":"MN"},{"t":85.7,"y":1.22,"c":"MN"},{"t":86.5,"y":1.55,"c":"MN"},{"t":87.3,"y":1.5,"c":"MN"},{"t":88.1,"y":1.75,"c":"MN"},{"t":88.9,"y":1.68,"c":"MN"},{"t":89.7,"y":1.92,"c":"MN"},{"t":90.5,"y":1.85,"c":"MN"},{"t":91.3,"y":2.1,"c":"MN"},{"t":92.1,"y":2.02,"c":"MN"},{"t":92.9,"y":2.25,"c":"MN"},{"t":93.7,"y":2.2,"c":"MN"},{"t":94.5,"y":2.45,"c":"MN"},{"t":95.5,"y":2.35,"c":"MN"},{"t":96.5,"y":2.62,"c":"MN"},{"t":97.5,"y":2.55,"c":"MN"},{"t":98.5,"y":2.68,"c":"MN"},{"t":100.5,"y":2.78,"c":"MN"},{"t":88.3,"y":1.3,"c":"MN"},{"t":85.5,"y":0.95,"c":"MN"},{"t":88.5,"y":1.05,"c":"MN"},
      {"t":83.1,"y":0.66,"c":"cIN"},{"t":86.3,"y":0.95,"c":"cIN"},{"t":87.9,"y":1.1,"c":"cIN"},{"t":89.5,"y":1.35,"c":"cIN"},{"t":91.3,"y":1.55,"c":"cIN"},{"t":92.9,"y":1.76,"c":"cIN"},{"t":94.7,"y":1.98,"c":"cIN"},{"t":96.7,"y":2.16,"c":"cIN"},{"t":92,"y":1.28,"c":"cIN"},
      {"t":84.7,"y":0.8,"c":"cIN"},{"t":87.1,"y":1.05,"c":"cIN"},{"t":88.7,"y":1.22,"c":"cIN"},{"t":90.3,"y":1.45,"c":"cIN"},{"t":92.1,"y":1.66,"c":"cIN"},{"t":93.7,"y":1.86,"c":"cIN"},{"t":95.7,"y":2.08,"c":"cIN"},
      {"t":85.9,"y":0.68,"c":"aIN"},{"t":87.5,"y":0.78,"c":"aIN"},{"t":88.9,"y":0.9,"c":"aIN"},{"t":93.1,"y":0.88,"c":"aIN"},
      {"t":122,"y":0.8,"c":"dIN"},{"t":122.6,"y":0.68,"c":"dIN"},{"t":123.3,"y":0.58,"c":"dIN"},{"t":124,"y":0.54,"c":"dIN"},{"t":124.8,"y":0.56,"c":"dIN"},{"t":122.5,"y":0.95,"c":"dIN"},{"t":123.5,"y":1.02,"c":"dIN"},{"t":124.4,"y":1.12,"c":"dIN"},{"t":125.3,"y":1.24,"c":"dIN"},{"t":126.3,"y":1.4,"c":"dIN"},{"t":127.5,"y":1.58,"c":"dIN"},{"t":128.9,"y":1.8,"c":"dIN"},{"t":130.3,"y":1.98,"c":"dIN"},{"t":131.8,"y":2.15,"c":"dIN"},{"t":133.3,"y":2.32,"c":"dIN"},{"t":134.9,"y":2.46,"c":"dIN"},{"t":136.5,"y":2.58,"c":"dIN"},{"t":138.5,"y":2.7,"c":"dIN"},{"t":141,"y":2.82,"c":"dIN"},{"t":143.3,"y":2.92,"c":"dIN"},
      {"t":121.7,"y":0.88,"c":"dIN"},{"t":122.4,"y":0.74,"c":"dIN"},{"t":123,"y":0.63,"c":"dIN"},{"t":123.7,"y":0.58,"c":"dIN"},{"t":124.5,"y":0.6,"c":"dIN"},{"t":123,"y":0.9,"c":"dIN"},{"t":124,"y":1.06,"c":"dIN"},{"t":124.9,"y":1.18,"c":"dIN"},{"t":125.8,"y":1.32,"c":"dIN"},{"t":126.9,"y":1.5,"c":"dIN"},{"t":128.2,"y":1.7,"c":"dIN"},{"t":129.6,"y":1.9,"c":"dIN"},{"t":131,"y":2.06,"c":"dIN"},{"t":132.5,"y":2.24,"c":"dIN"},{"t":134.1,"y":2.4,"c":"dIN"},{"t":135.7,"y":2.52,"c":"dIN"},{"t":137.5,"y":2.64,"c":"dIN"},{"t":139.7,"y":2.76,"c":"dIN"},{"t":142.1,"y":2.86,"c":"dIN"},{"t":125.5,"y":0.62,"c":"dIN"},
      {"t":124.3,"y":0.8,"c":"MN"},{"t":125.5,"y":0.7,"c":"MN"},{"t":126.1,"y":1.05,"c":"MN"},{"t":126.9,"y":0.86,"c":"MN"},{"t":127.3,"y":1.3,"c":"MN"},{"t":128.1,"y":1.45,"c":"MN"},{"t":128.9,"y":1.35,"c":"MN"},{"t":129.7,"y":1.6,"c":"MN"},{"t":130.5,"y":1.55,"c":"MN"},{"t":131.3,"y":1.8,"c":"MN"},{"t":132.1,"y":1.72,"c":"MN"},{"t":132.9,"y":1.98,"c":"MN"},{"t":133.7,"y":1.9,"c":"MN"},{"t":134.5,"y":2.15,"c":"MN"},{"t":135.3,"y":2.08,"c":"MN"},{"t":136.1,"y":2.3,"c":"MN"},{"t":137.1,"y":2.4,"c":"MN"},{"t":138.1,"y":2.5,"c":"MN"},{"t":139.1,"y":2.6,"c":"MN"},{"t":140.1,"y":2.48,"c":"MN"},{"t":141.1,"y":2.72,"c":"MN"},{"t":142.1,"y":2.6,"c":"MN"},{"t":128.5,"y":1.12,"c":"MN"},{"t":131.5,"y":1.2,"c":"MN"},{"t":133,"y":0.92,"c":"MN"},
      {"t":124.9,"y":0.9,"c":"MN"},{"t":126.5,"y":1.15,"c":"MN"},{"t":127.7,"y":1.22,"c":"MN"},{"t":128.5,"y":1.55,"c":"MN"},{"t":129.3,"y":1.5,"c":"MN"},{"t":130.1,"y":1.75,"c":"MN"},{"t":130.9,"y":1.68,"c":"MN"},{"t":131.7,"y":1.92,"c":"MN"},{"t":132.5,"y":1.85,"c":"MN"},{"t":133.3,"y":2.1,"c":"MN"},{"t":134.1,"y":2.02,"c":"MN"},{"t":134.9,"y":2.25,"c":"MN"},{"t":135.7,"y":2.2,"c":"MN"},{"t":136.5,"y":2.45,"c":"MN"},{"t":137.5,"y":2.35,"c":"MN"},{"t":138.5,"y":2.62,"c":"MN"},{"t":139.5,"y":2.55,"c":"MN"},{"t":140.5,"y":2.68,"c":"MN"},{"t":142.5,"y":2.78,"c":"MN"},{"t":130.3,"y":1.3,"c":"MN"},{"t":127.5,"y":0.95,"c":"MN"},{"t":130.5,"y":1.05,"c":"MN"},
      {"t":125.1,"y":0.66,"c":"cIN"},{"t":128.3,"y":0.95,"c":"cIN"},{"t":129.9,"y":1.1,"c":"cIN"},{"t":131.5,"y":1.35,"c":"cIN"},{"t":133.3,"y":1.55,"c":"cIN"},{"t":134.9,"y":1.76,"c":"cIN"},{"t":136.7,"y":1.98,"c":"cIN"},{"t":138.7,"y":2.16,"c":"cIN"},{"t":134,"y":1.28,"c":"cIN"},
      {"t":126.7,"y":0.8,"c":"cIN"},{"t":129.1,"y":1.05,"c":"cIN"},{"t":130.7,"y":1.22,"c":"cIN"},{"t":132.3,"y":1.45,"c":"cIN"},{"t":134.1,"y":1.66,"c":"cIN"},{"t":135.7,"y":1.86,"c":"cIN"},{"t":137.7,"y":2.08,"c":"cIN"},
      {"t":127.9,"y":0.68,"c":"aIN"},{"t":129.5,"y":0.78,"c":"aIN"},{"t":130.9,"y":0.9,"c":"aIN"},{"t":135.1,"y":0.88,"c":"aIN"},
      {"t":161,"y":0.8,"c":"dIN"},{"t":161.6,"y":0.68,"c":"dIN"},{"t":162.3,"y":0.58,"c":"dIN"},{"t":163,"y":0.54,"c":"dIN"},{"t":163.8,"y":0.56,"c":"dIN"},{"t":161.5,"y":0.95,"c":"dIN"},{"t":162.5,"y":1.02,"c":"dIN"},{"t":163.4,"y":1.12,"c":"dIN"},{"t":164.3,"y":1.24,"c":"dIN"},{"t":165.3,"y":1.4,"c":"dIN"},{"t":166.5,"y":1.58,"c":"dIN"},{"t":167.9,"y":1.8,"c":"dIN"},{"t":169.3,"y":1.98,"c":"dIN"},{"t":170.8,"y":2.15,"c":"dIN"},{"t":172.3,"y":2.32,"c":"dIN"},{"t":173.9,"y":2.46,"c":"dIN"},{"t":175.5,"y":2.58,"c":"dIN"},{"t":177.5,"y":2.7,"c":"dIN"},{"t":180,"y":2.82,"c":"dIN"},{"t":182.3,"y":2.92,"c":"dIN"},
      {"t":160.7,"y":0.88,"c":"dIN"},{"t":161.4,"y":0.74,"c":"dIN"},{"t":162,"y":0.63,"c":"dIN"},{"t":162.7,"y":0.58,"c":"dIN"},{"t":163.5,"y":0.6,"c":"dIN"},{"t":162,"y":0.9,"c":"dIN"},{"t":163,"y":1.06,"c":"dIN"},{"t":163.9,"y":1.18,"c":"dIN"},{"t":164.8,"y":1.32,"c":"dIN"},{"t":165.9,"y":1.5,"c":"dIN"},{"t":167.2,"y":1.7,"c":"dIN"},{"t":168.6,"y":1.9,"c":"dIN"},{"t":170,"y":2.06,"c":"dIN"},{"t":171.5,"y":2.24,"c":"dIN"},{"t":173.1,"y":2.4,"c":"dIN"},{"t":174.7,"y":2.52,"c":"dIN"},{"t":176.5,"y":2.64,"c":"dIN"},{"t":178.7,"y":2.76,"c":"dIN"},{"t":181.1,"y":2.86,"c":"dIN"},{"t":164.5,"y":0.62,"c":"dIN"},
      {"t":163.3,"y":0.8,"c":"MN"},{"t":164.5,"y":0.7,"c":"MN"},{"t":165.1,"y":1.05,"c":"MN"},{"t":165.9,"y":0.86,"c":"MN"},{"t":166.3,"y":1.3,"c":"MN"},{"t":167.1,"y":1.45,"c":"MN"},{"t":167.9,"y":1.35,"c":"MN"},{"t":168.7,"y":1.6,"c":"MN"},{"t":169.5,"y":1.55,"c":"MN"},{"t":170.3,"y":1.8,"c":"MN"},{"t":171.1,"y":1.72,"c":"MN"},{"t":171.9,"y":1.98,"c":"MN"},{"t":172.7,"y":1.9,"c":"MN"},{"t":173.5,"y":2.15,"c":"MN"},{"t":174.3,"y":2.08,"c":"MN"},{"t":175.1,"y":2.3,"c":"MN"},{"t":176.1,"y":2.4,"c":"MN"},{"t":177.1,"y":2.5,"c":"MN"},{"t":178.1,"y":2.6,"c":"MN"},{"t":179.1,"y":2.48,"c":"MN"},{"t":180.1,"y":2.72,"c":"MN"},{"t":181.1,"y":2.6,"c":"MN"},{"t":167.5,"y":1.12,"c":"MN"},{"t":170.5,"y":1.2,"c":"MN"},{"t":172,"y":0.92,"c":"MN"},
      {"t":163.9,"y":0.9,"c":"MN"},{"t":165.5,"y":1.15,"c":"MN"},{"t":166.7,"y":1.22,"c":"MN"},{"t":167.5,"y":1.55,"c":"MN"},{"t":168.3,"y":1.5,"c":"MN"},{"t":169.1,"y":1.75,"c":"MN"},{"t":169.9,"y":1.68,"c":"MN"},{"t":170.7,"y":1.92,"c":"MN"},{"t":171.5,"y":1.85,"c":"MN"},{"t":172.3,"y":2.1,"c":"MN"},{"t":173.1,"y":2.02,"c":"MN"},{"t":173.9,"y":2.25,"c":"MN"},{"t":174.7,"y":2.2,"c":"MN"},{"t":175.5,"y":2.45,"c":"MN"},{"t":176.5,"y":2.35,"c":"MN"},{"t":177.5,"y":2.62,"c":"MN"},{"t":178.5,"y":2.55,"c":"MN"},{"t":179.5,"y":2.68,"c":"MN"},{"t":181.5,"y":2.78,"c":"MN"},{"t":169.3,"y":1.3,"c":"MN"},{"t":166.5,"y":0.95,"c":"MN"},{"t":169.5,"y":1.05,"c":"MN"},
      {"t":164.1,"y":0.66,"c":"cIN"},{"t":167.3,"y":0.95,"c":"cIN"},{"t":168.9,"y":1.1,"c":"cIN"},{"t":170.5,"y":1.35,"c":"cIN"},{"t":172.3,"y":1.55,"c":"cIN"},{"t":173.9,"y":1.76,"c":"cIN"},{"t":175.7,"y":1.98,"c":"cIN"},{"t":177.7,"y":2.16,"c":"cIN"},{"t":173,"y":1.28,"c":"cIN"},
      {"t":165.7,"y":0.8,"c":"cIN"},{"t":168.1,"y":1.05,"c":"cIN"},{"t":169.7,"y":1.22,"c":"cIN"},{"t":171.3,"y":1.45,"c":"cIN"},{"t":173.1,"y":1.66,"c":"cIN"},{"t":174.7,"y":1.86,"c":"cIN"},{"t":176.7,"y":2.08,"c":"cIN"},
      {"t":166.9,"y":0.68,"c":"aIN"},{"t":168.5,"y":0.78,"c":"aIN"},{"t":169.9,"y":0.9,"c":"aIN"},{"t":174.1,"y":0.88,"c":"aIN"}
    ]
  },
  "vconcat": [
    {
      "width": 1124,
      "height": 240,
      "encoding": {
        "x": {"field": "t", "type": "quantitative", "scale": {"domain": [-0.714, 200], "nice": false, "zero": false}, "axis": null},
        "y": {"field": "v", "type": "quantitative", "scale": {"domain": [0, 960], "nice": false, "zero": false}, "axis": null}
      },
      "layer": [
        {
          "data": {"name": "top"},
          "mark": {"type": "line", "strokeWidth": 1.4},
          "encoding": {
            "detail": {"field": "k"},
            "color": {"field": "k", "type": "nominal", "legend": null,
              "scale": {"domain": ["MN","MN_2","aIN","aIN_2","cIN","cIN_2","dIN","h1","h2","h3","dla","dlc","RB"],
                        "range": ["#2a9d4c","#2a9d4c","#5a4fcf","#5a4fcf","#2cb5e8","#2cb5e8","#b0602b","#6e6e6e","#6e6e6e","#6e6e6e","#f7a68c","#e8161b","#f8c43a"]}}
          }
        },
        {
          "data": {"values": [
            {"t": -1.7, "t2": -1.7, "v": 233, "v2": 427},
            {"t": -1.7, "t2": -0.7, "v": 427, "v2": 427},
            {"t": -1.7, "t2": -0.7, "v": 233, "v2": 233}
          ]},
          "mark": {"type": "rule", "color": "#555555", "strokeWidth": 1.2},
          "encoding": {"x2": {"field": "t2"}, "y2": {"field": "v2"}}
        },
        {
          "data": {"values": [{"t": 10.12, "t2": 10.12, "v": 757, "v2": 857}]},
          "mark": {"type": "rule", "color": "#111111", "strokeWidth": 1.8},
          "encoding": {"x2": {"field": "t2"}, "y2": {"field": "v2"}}
        },
        {
          "data": {"values": [
            {"t": 57.63, "t2": 59.86, "v": 733, "v2": 588},
            {"t": -0.9, "t2": -0.9, "v": -56, "v2": 0}
          ]},
          "mark": {"type": "rule", "color": "#111111", "strokeWidth": 2},
          "encoding": {"x2": {"field": "t2"}, "y2": {"field": "v2"}}
        },
        {
          "data": {"values": [{"t": 59.86, "v": 588}]},
          "mark": {"type": "point", "shape": "triangle-down", "filled": true, "size": 80, "angle": -19, "color": "#111111", "opacity": 1}
        },
        {
          "data": {"values": [{"t": -0.9, "v": 0}]},
          "mark": {"type": "point", "shape": "triangle-up", "filled": true, "size": 45, "color": "#111111", "opacity": 1}
        },
        {
          "data": {"values": [
            {"t": -2.7, "v": 673, "s": "MN"},
            {"t": -2.7, "v": 600, "s": "aIN"},
            {"t": -2.7, "v": 533, "s": "cIN"},
            {"t": -2.7, "v": 469, "s": "dIN"},
            {"t": -2.7, "v": 332, "s": "hexN"},
            {"t": -2.7, "v": 187, "s": "dla"},
            {"t": -2.7, "v": 117, "s": "dlc"},
            {"t": -2.7, "v": 49, "s": "RB"}
          ]},
          "mark": {"type": "text", "align": "right", "baseline": "middle", "fontSize": 14, "color": "#222222"},
          "encoding": {"text": {"field": "s"}}
        },
        {
          "data": {"values": [{"t": 97.3, "v": 877, "s": "Trunk touch"}]},
          "mark": {"type": "text", "align": "center", "baseline": "middle", "fontSize": 21, "color": "#111111"},
          "encoding": {"text": {"field": "s"}}
        },
        {
          "data": {"values": [{"t": -8.57, "v": 880, "s": "a"}]},
          "mark": {"type": "text", "align": "left", "baseline": "middle", "fontSize": 28, "color": "#111111"},
          "encoding": {"text": {"field": "s"}}
        },
        {
          "data": {"values": [{"t": 12.1, "v": 821, "s": "100 mV"}]},
          "mark": {"type": "text", "align": "left", "baseline": "middle", "fontSize": 13, "color": "#222222"},
          "encoding": {"text": {"field": "s"}}
        },
        {
          "data": {"values": [{"t": 198.9, "v": 782, "s": "left"}]},
          "mark": {"type": "text", "align": "right", "baseline": "middle", "fontSize": 13, "color": "#222222"},
          "encoding": {"text": {"field": "s"}}
        }
      ]
    },
    {
      "width": 1124,
      "height": 85,
      "view": {"stroke": "#8c8c8c", "strokeWidth": 1.3},
      "encoding": {
        "x": {"field": "t", "type": "quantitative", "scale": {"domain": [-0.714, 200], "nice": false, "zero": false}, "axis": null},
        "y": {"field": "y", "type": "quantitative", "scale": {"domain": [-0.16, 3.2], "nice": false, "zero": false},
          "axis": {"values": [0, 0.5, 1, 1.5, 2, 2.5, 3], "labelExpr": "datum.value % 1 === 0 ? format(datum.value, 'd') : ''",
            "domain": false, "grid": false, "tickSize": -4, "tickColor": "#777777", "labelPadding": 14, "labelFontSize": 14, "labelColor": "#222222",
            "title": "RC coordinate (mm)", "titleFontSize": 14, "titleFontWeight": "normal", "titleColor": "#222222",
            "titleX": -34, "titleY": 99, "titleAlign": "center", "titleBaseline": "middle", "titleAngle": -90}}
      },
      "layer": [
        {
          "data": {"name": "rasterL"},
          "mark": {"type": "circle", "size": 12, "opacity": 1},
          "encoding": {
            "color": {"field": "c", "type": "nominal", "legend": null,
              "scale": {"domain": ["hexN","dIN","MN","cIN","aIN","dla","dlc","RB"],
                        "range": ["#5c5c5c","#a65628","#1a9850","#2bb3e6","#3f3fbf","#f4a582","#e41a1c","#f6c12f"]}}
          }
        },
        {
          "data": {"values": [{"t": 199.6, "y": 3.63, "s": "left"}]},
          "mark": {"type": "text", "align": "right", "baseline": "middle", "fontSize": 13, "color": "#222222"},
          "encoding": {"text": {"field": "s"}}
        }
      ]
    },
    {
      "width": 1124,
      "height": 85,
      "view": {"stroke": "#8c8c8c", "strokeWidth": 1.3},
      "encoding": {
        "x": {"field": "t", "type": "quantitative", "scale": {"domain": [-0.714, 200], "nice": false, "zero": false}, "axis": null},
        "y": {"field": "y", "type": "quantitative", "scale": {"domain": [-0.16, 3.2], "nice": false, "zero": false},
          "axis": {"values": [0, 0.5, 1, 1.5, 2, 2.5, 3], "labelExpr": "datum.value % 1 === 0 ? format(datum.value, 'd') : ''",
            "domain": false, "grid": false, "tickSize": -4, "tickColor": "#777777", "labelPadding": 14, "labelFontSize": 14, "labelColor": "#222222",
            "title": null}}
      },
      "layer": [
        {
          "data": {"name": "rasterR"},
          "mark": {"type": "circle", "size": 12, "opacity": 1},
          "encoding": {
            "color": {"field": "c", "type": "nominal", "legend": null,
              "scale": {"domain": ["hexN","dIN","MN","cIN","aIN","dla","dlc","RB"],
                        "range": ["#5c5c5c","#a65628","#1a9850","#2bb3e6","#3f3fbf","#f4a582","#e41a1c","#f6c12f"]}}
          }
        },
        {
          "data": {"values": [{"t": 199.6, "y": 3.63, "s": "right"}]},
          "mark": {"type": "text", "align": "right", "baseline": "middle", "fontSize": 13, "color": "#222222"},
          "encoding": {"text": {"field": "s"}}
        }
      ]
    },
    {
      "width": 1124,
      "height": 138,
      "encoding": {
        "x": {"field": "t", "type": "quantitative", "scale": {"domain": [-0.714, 200], "nice": false, "zero": false},
          "axis": {"values": [0, 200], "title": "time (ms)", "grid": false, "domainColor": "#444444", "domainWidth": 1.4, "tickColor": "#444444", "tickSize": 4,
            "labelPadding": 13, "labelFontSize": 14, "labelColor": "#222222", "labelFlush": false,
            "titleFontSize": 14, "titleFontWeight": "normal", "titleColor": "#222222", "titleY": 24, "titleBaseline": "middle"}},
        "y": {"field": "v", "type": "quantitative", "scale": {"domain": [0, 552], "nice": false, "zero": false}, "axis": null}
      },
      "layer": [
        {
          "data": {"name": "bottom"},
          "mark": {"type": "line", "strokeWidth": 1.4},
          "encoding": {
            "detail": {"field": "k"},
            "color": {"field": "k", "type": "nominal", "legend": null,
              "scale": {"domain": ["MN","MN_2","aIN","aIN_2","cIN","dIN","h1","h2","h3"],
                        "range": ["#2a9d4c","#2a9d4c","#5a4fcf","#5a4fcf","#2cb5e8","#b0602b","#6e6e6e","#6e6e6e","#6e6e6e"]}}
          }
        },
        {
          "data": {"values": [
            {"t": -1.48, "t2": -1.48, "v": 48, "v2": 237},
            {"t": -1.48, "t2": -0.59, "v": 237, "v2": 237},
            {"t": -1.48, "t2": -0.59, "v": 48, "v2": 48}
          ]},
          "mark": {"type": "rule", "color": "#555555", "strokeWidth": 1.2},
          "encoding": {"x2": {"field": "t2"}, "y2": {"field": "v2"}}
        },
        {
          "data": {"values": [{"t": 26.61, "t2": 29.82, "v": 564, "v2": 420}]},
          "mark": {"type": "rule", "color": "#111111", "strokeWidth": 2},
          "encoding": {"x2": {"field": "t2"}, "y2": {"field": "v2"}}
        },
        {
          "data": {"values": [{"t": 29.82, "v": 420}]},
          "mark": {"type": "point", "shape": "triangle-down", "filled": true, "size": 80, "angle": -27, "color": "#111111", "opacity": 1}
        },
        {
          "data": {"values": [
            {"t": -2.7, "v": 492, "s": "MN"},
            {"t": -2.7, "v": 417, "s": "aIN"},
            {"t": -2.7, "v": 357, "s": "cIN"},
            {"t": -2.7, "v": 291, "s": "dIN"},
            {"t": -2.7, "v": 137, "s": "hexN"}
          ]},
          "mark": {"type": "text", "align": "right", "baseline": "middle", "fontSize": 14, "color": "#222222"},
          "encoding": {"text": {"field": "s"}}
        },
        {
          "data": {"values": [{"t": 199.3, "v": 562, "s": "right"}]},
          "mark": {"type": "text", "align": "right", "baseline": "middle", "fontSize": 13, "color": "#222222"},
          "encoding": {"text": {"field": "s"}}
        }
      ]
    }
  ]
}
